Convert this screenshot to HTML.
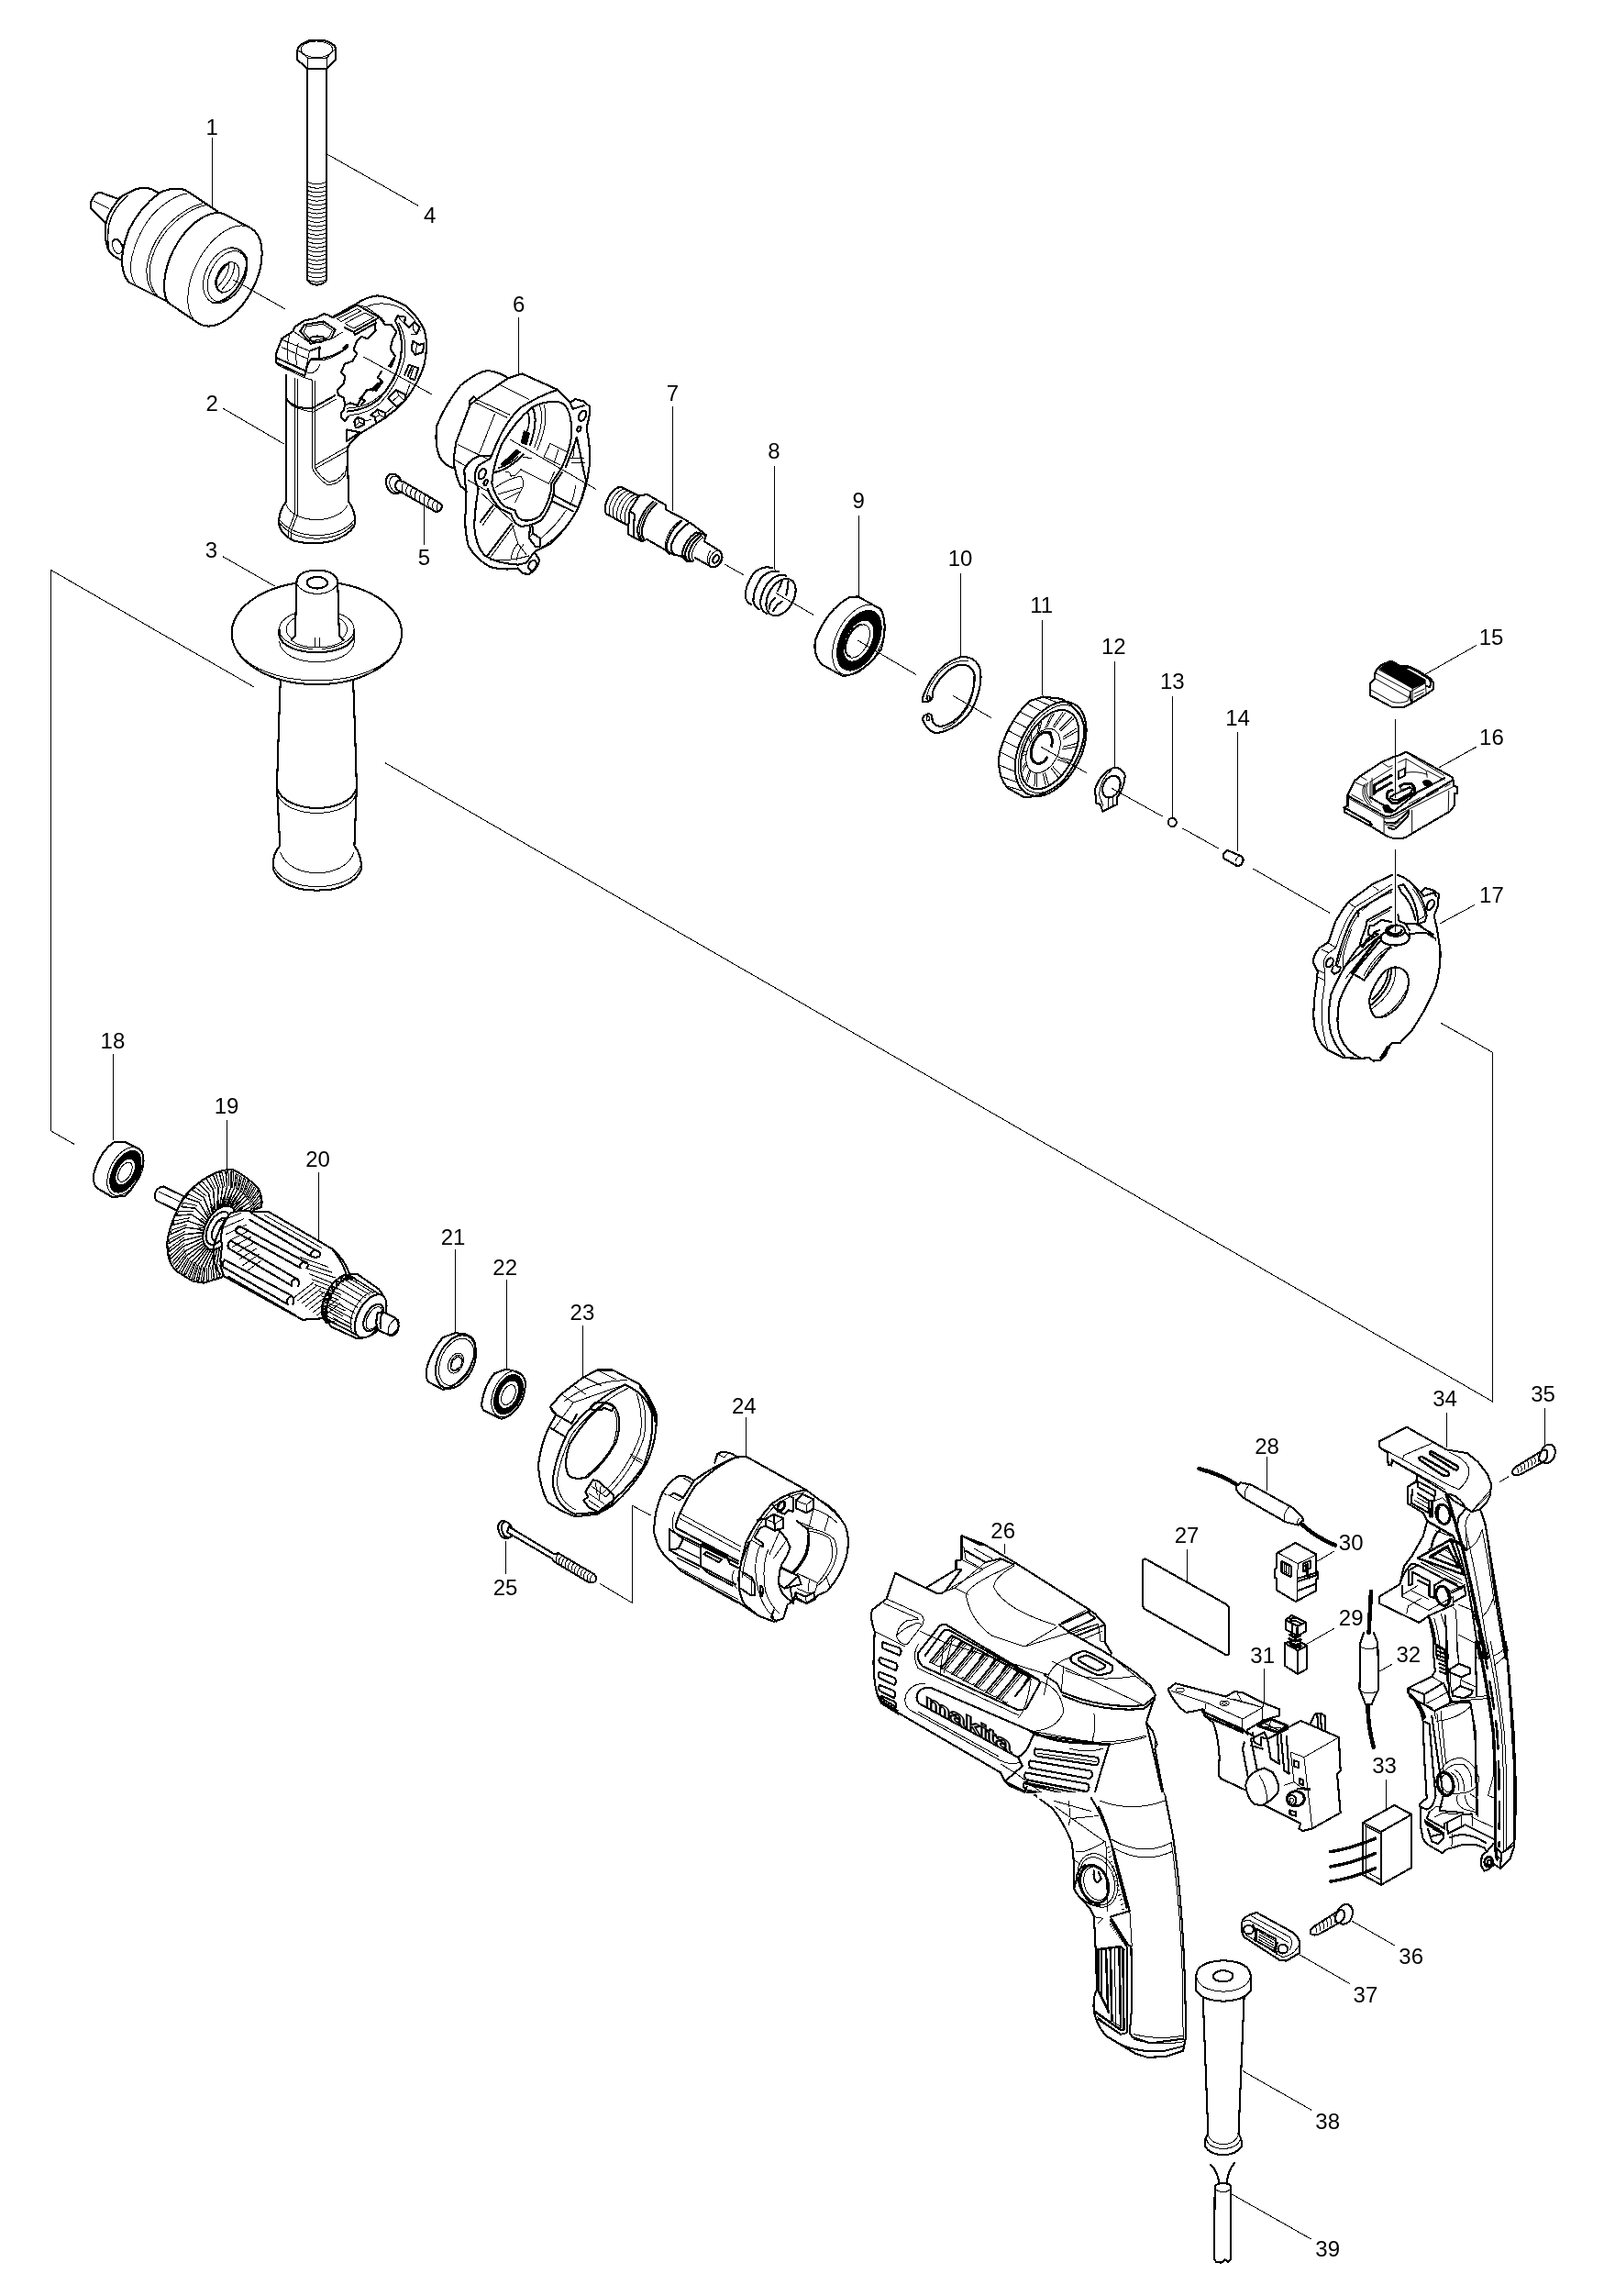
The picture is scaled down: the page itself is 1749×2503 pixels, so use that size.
<!DOCTYPE html>
<html><head><meta charset="utf-8"><title>Parts diagram</title>
<style>
html,body{margin:0;padding:0;background:#fff;}
body{width:1749px;height:2503px;overflow:hidden;font-family:"Liberation Sans",sans-serif;}
svg{display:block;position:absolute;left:0;top:0;will-change:transform;}
.k{fill:none;stroke:#000;stroke-width:2.1;stroke-linecap:round;stroke-linejoin:round;vector-effect:non-scaling-stroke;}
.m{fill:none;stroke:#000;stroke-width:1.5;stroke-linecap:round;stroke-linejoin:round;vector-effect:non-scaling-stroke;}
.t{fill:none;stroke:#000;stroke-width:1;stroke-linecap:round;stroke-linejoin:round;vector-effect:non-scaling-stroke;}
.kw{fill:#fff;stroke:#000;stroke-width:2.1;stroke-linecap:round;stroke-linejoin:round;vector-effect:non-scaling-stroke;}
.tw{fill:#fff;stroke:#000;stroke-width:1;stroke-linecap:round;stroke-linejoin:round;vector-effect:non-scaling-stroke;}
.b{fill:#000;stroke:#000;stroke-width:1;stroke-linejoin:round;vector-effect:non-scaling-stroke;}
.l{fill:none;stroke:#000;stroke-width:1;vector-effect:non-scaling-stroke;}
text{font-family:"Liberation Sans",sans-serif;font-size:24px;fill:#000;text-anchor:middle;stroke:#fff;stroke-width:0.7px;paint-order:stroke fill;}
</style></head><body>
<svg width="1749" height="2503" viewBox="0 0 1749 2503" shape-rendering="crispEdges">
<rect x="0" y="0" width="1749" height="2503" fill="#fff"/>
<!-- p01_chuck.svg -->
<g transform="translate(80,180) scale(0.15586)">
<!-- nose -->
<path class="k" d="M312,236 L190,192 Q160,190 140,225 Q112,265 125,305 L225,405"/>
<path class="t" d="M140,250 L250,305"/>
<!-- cone -->
<path class="k" d="M312,236 Q380,192 440,167 Q500,153 545,167 L600,195"/>
<path class="k" d="M348,213 Q250,300 228,405 Q213,500 240,580 Q255,628 335,665"/>
<path class="m" d="M378,213 Q272,310 248,420 Q236,500 246,570"/>
<ellipse class="t" cx="308" cy="568" rx="32" ry="54" transform="rotate(-18 308 568)"/>
<path class="k" d="M278,530 Q300,505 325,535 L345,572"/>
<!-- main body -->
<path class="k" d="M600,197 Q470,290 390,450 Q340,570 340,680 Q345,775 392,822 L650,950"/>
<path class="k" d="M600,195 Q660,165 720,165 Q770,165 800,185 L1010,325"/>
<path class="t" d="M790,200 Q690,215 560,340 Q450,470 410,640 Q385,760 432,832"/>
<path class="t" d="M905,268 Q770,300 640,440 Q540,560 515,700 Q500,850 590,925"/>
<path class="t" d="M925,280 Q790,310 660,450 Q560,570 535,710 Q520,860 610,935"/>
<!-- sleeve -->
<path class="k" d="M1050,340 L1240,440 A214,380 27.8 0 1 880,1110 L660,960 A214,380 27.8 0 1 1050,340"/>
<path class="t" d="M1240,440 A214,380 27.8 0 0 880,1110"/>
<!-- face rings -->
<ellipse class="t" cx="1062" cy="772" rx="135" ry="208" transform="rotate(27.8 1062 772)"/>
<ellipse class="t" cx="1075" cy="778" rx="118" ry="190" transform="rotate(27.8 1075 778)"/>
<path class="k" d="M1100,578 Q1180,580 1212,650 Q1225,760 1130,880 Q1050,965 975,965"/>
<ellipse class="t" cx="1078" cy="784" rx="72" ry="112" transform="rotate(27.8 1078 784)"/>
<path class="k" d="M1092,680 Q1030,725 998,805 Q990,870 1040,890"/>
<path class="t" d="M1085,690 Q1095,760 1010,850"/>
<path class="t" d="M1125,690 Q1135,770 1040,870"/>
</g>
<!-- p02_handlebase.svg -->
<g transform="translate(280,310) scale(0.13716)">
<!-- stem -->
<path class="k" d="M235,720 L232,1730 Q180,1790 175,1890 Q185,1990 300,2040 Q450,2075 600,2040 Q730,1995 775,1920 Q795,1820 730,1725 L720,1290"/>
<path class="t" d="M232,1750 C300,1910 640,1910 722,1755"/>
<path class="t" d="M180,1870 C300,2035 650,2035 772,1875"/>
<path class="t" d="M185,1900 C300,2060 650,2060 765,1905"/>
<path class="t" d="M300,750 L300,1830 L250,1960 L250,2010 M322,755 L322,1835 L272,1965 L272,2020"/>
<path class="t" d="M438,760 L438,1440 Q450,1520 560,1592 Q640,1600 700,1520 L716,1440"/>
<path class="t" d="M460,770 L460,1450 Q490,1520 570,1570 Q640,1570 690,1500"/>
<path class="t" d="M460,1440 L720,1290 M470,1462 L720,1322"/>
<path class="k" d="M235,905 Q250,945 330,975 Q400,990 440,985 L620,885"/>
<path class="t" d="M245,925 Q270,985 450,1015 L630,912"/>
<!-- clamp outline -->
<path class="k" d="M150,560 L200,430 L290,372 L300,340 L380,287 L470,270 L530,235 L560,240 L600,262 L790,155 Q870,100 960,90 Q1060,100 1180,170 Q1290,260 1335,370 Q1365,500 1330,640 Q1290,780 1180,920 Q1100,1020 830,1180 Q740,1250 722,1300"/>
<path class="k" d="M150,560 L150,620 L380,728 L392,690 L160,585"/>
<path class="t" d="M165,640 L375,740 L440,760 M200,440 L420,530 L385,690 M290,372 L430,470 L600,430 L680,380"/>
<path class="t" d="M260,400 Q230,520 250,610 M330,470 Q300,560 320,640 M200,500 L400,590"/>
<path class="k" d="M392,690 Q400,620 440,590 Q560,600 680,530 L720,480"/>
<path class="k" d="M420,530 L500,500 L495,590"/>
<path class="t" d="M400,700 Q470,720 500,640 M440,600 Q560,625 700,520 L730,490 L715,475 L680,510"/>
<!-- hex nut pocket -->
<path class="k" d="M345,372 L380,320 L530,295 L625,360 L590,432 L430,472 Z"/>
<path class="t" d="M372,380 L395,335 L525,315 L600,365 L575,420 L440,452 Z M380,320 L395,335 M530,295 L525,315 M625,360 L600,365"/>
<ellipse class="k" cx="482" cy="436" rx="62" ry="24"/>
<!-- ribbed slot -->
<path class="k" d="M610,262 L800,165 L975,262 L770,378 L700,345"/>
<path class="t" d="M640,275 L800,195 L830,210 L670,295 Z M700,310 L860,225 L930,262 L770,350 Z M800,165 L870,180 L990,265 L1020,300"/>
<path class="t" d="M870,180 Q1000,120 1150,190 Q1260,260 1300,370"/>
<path class="k" d="M770,378 L780,400 L940,310 L945,370"/>
<!-- toothed inner opening -->
<path class="k" d="M945,300 L938,372 L880,432 L835,415 L795,450 L770,520 L798,550 L760,610 L700,632 L670,700 L702,732 L690,792 L640,842 L650,882 L692,902 L702,962 L742,942 L800,962 L832,902 L872,842 L922,830 L962,790"/>
<path class="k" d="M975,262 L1020,320 L1070,322 L1112,380 L1082,432 L1062,512 L1100,572 L1050,652"/>
<path class="b" d="M1085,585 L1100,590 L1070,660 L1052,655 Z M990,760 L1005,775 L950,850 L935,840 Z"/>
<path class="k" d="M992,690 L962,742 L1002,772 L962,792 L925,842 L880,838 L830,902"/>
<path class="k" d="M820,905 L860,925 L830,960 M700,962 L690,1000 L670,1020 L672,1060 L700,1085 L730,1050"/>
<!-- inner ring arcs -->
<path class="k" d="M1100,290 Q1175,420 1140,600 Q1100,780 960,920 Q860,1000 720,1010"/>
<path class="t" d="M1130,310 Q1200,430 1170,610 Q1120,800 980,945 Q880,1030 740,1040"/>
<path class="t" d="M1100,740 Q1040,850 920,930 Q840,980 720,985"/>
<!-- outer teeth -->
<path class="k" d="M1100,290 L1120,250 L1180,260 L1175,310 L1210,345 L1250,300 L1295,340 L1270,395"/>
<path class="t" d="M1120,250 L1150,290 L1175,310 M1250,300 L1240,350 L1270,395 L1230,400"/>
<path class="k" d="M1240,450 L1230,520 L1260,560 L1320,540 L1330,470 L1290,480 Z"/>
<path class="t" d="M1240,450 L1275,470 L1290,480 M1275,470 L1265,525 L1260,560"/>
<path class="k" d="M1210,640 L1175,720 M1235,650 L1200,730 M1210,640 L1285,665 L1255,760 L1215,745"/>
<path class="t" d="M1245,665 L1220,740"/>
<path class="k" d="M1045,905 L1110,840 L1185,880 L1175,925 L1110,975 Z"/>
<path class="t" d="M1110,840 L1130,885 L1175,925 M1130,885 L1070,935"/>
<path class="k" d="M905,1040 L960,995 L1020,1020 L1025,1060 L950,1105 L935,1050 Z"/>
<path class="t" d="M960,995 L975,1040 L1025,1060 M975,1040 L940,1060"/>
<path class="k" d="M775,1090 L800,1055 L850,1075 L855,1115 L800,1140 L785,1135 Z"/>
<path class="t" d="M800,1055 L815,1095 L855,1115 M815,1095 L790,1120"/>
<path class="t" d="M860,1085 L910,1075 M1030,1020 L1080,975 M1190,870 L1215,800"/>
<path class="k" d="M715,1155 L822,1176 L715,1246 Z"/>
<!-- screw 5 -->
<ellipse class="kw" cx="1092" cy="1585" rx="62" ry="82" transform="rotate(-25 1092 1585)"/>
<ellipse class="t" cx="1108" cy="1590" rx="48" ry="68" transform="rotate(-25 1108 1590)"/>
<path class="kw" d="M1120,1560 Q1090,1590 1110,1630 L1420,1805 Q1460,1810 1470,1775 Q1475,1745 1450,1735 L1160,1565 Z"/>
<path class="t" d="M1170,1575 Q1140,1610 1160,1655 M1205,1595 Q1175,1630 1195,1675 M1240,1615 Q1210,1650 1230,1695 M1275,1635 Q1245,1670 1265,1715 M1310,1655 Q1280,1690 1300,1735 M1345,1675 Q1315,1710 1335,1755 M1380,1695 Q1350,1730 1370,1775 M1415,1715 Q1385,1750 1405,1795 M1445,1735 Q1420,1765 1435,1805"/>
</g>
<!-- p03_grip.svg -->
<g transform="translate(230,600) scale(0.16551)">
<!-- handle -->
<path class="kw" d="M460,800 Q445,1200 435,1560 L455,1945 Q400,2010 410,2100 Q450,2200 600,2232 L697,2240 L800,2232 Q950,2200 990,2100 Q995,2010 945,1945 L960,1560 Q950,1200 935,800"/>
<path class="k" d="M435,1570 C500,1740 900,1740 960,1570"/>
<path class="t" d="M440,1610 C500,1770 900,1770 955,1610 M458,1990 C520,2170 880,2170 942,1990 M415,2080 C480,2260 920,2260 985,2080"/>
<ellipse class="kw" cx="697" cy="545" rx="560" ry="338"/>
<path class="t" d="M150,610 C260,940 1135,940 1245,610"/>
<!-- base ring -->
<path class="t" d="M450,600 C470,780 925,780 945,600 L945,520"/>
<ellipse class="t" cx="697" cy="520" rx="247" ry="130"/>
<path class="k" d="M450,520 L450,560 C480,710 915,710 945,560 L945,520"/>
<ellipse class="t" cx="697" cy="520" rx="200" ry="108"/>
<!-- post -->
<path class="kw" d="M565,200 Q580,145 650,135 L750,135 Q820,150 835,200 L845,560 L875,590 L845,600 L555,600 L530,590 L555,560 Z"/>
<path class="t" d="M565,215 C600,310 800,310 835,215"/>
<path d="M548,585 L852,585 L880,600 L700,660 L520,600 Z" fill="#fff" stroke="none"/>
<path class="t" d="M683,575 L683,640 M715,575 L715,640 M530,592 C600,655 800,655 875,592"/>
<ellipse class="k" cx="700" cy="213" rx="68" ry="38"/>
</g>
<!-- p04_bolt.svg -->
<g transform="translate(280,30) scale(0.13067)">
<path class="k" d="M340,185 Q350,140 440,108 L560,108 Q640,130 660,170 L660,270 L585,342 L420,342 L340,270 Z"/>
<ellipse class="t" cx="500" cy="182" rx="132" ry="68"/>
<path class="t" d="M345,190 L425,252 L425,340 M655,180 L585,252 L585,340 M425,252 Q500,262 585,252"/>
<path class="k" d="M420,342 L420,2095 Q430,2140 500,2148 Q575,2140 585,2095 L585,342"/>
<path class="t" d="M428,1290 Q500,1322 578,1290"/>
<path class="t" d="M428,1325 Q500,1357 578,1325"/>
<path class="t" d="M428,1361 Q500,1393 578,1361"/>
<path class="t" d="M428,1396 Q500,1428 578,1396"/>
<path class="t" d="M428,1432 Q500,1464 578,1432"/>
<path class="t" d="M428,1467 Q500,1499 578,1467"/>
<path class="t" d="M428,1503 Q500,1535 578,1503"/>
<path class="t" d="M428,1538 Q500,1570 578,1538"/>
<path class="t" d="M428,1574 Q500,1606 578,1574"/>
<path class="t" d="M428,1609 Q500,1641 578,1609"/>
<path class="t" d="M428,1645 Q500,1677 578,1645"/>
<path class="t" d="M428,1680 Q500,1712 578,1680"/>
<path class="t" d="M428,1716 Q500,1748 578,1716"/>
<path class="t" d="M428,1751 Q500,1783 578,1751"/>
<path class="t" d="M428,1787 Q500,1819 578,1787"/>
<path class="t" d="M428,1822 Q500,1854 578,1822"/>
<path class="t" d="M428,1858 Q500,1890 578,1858"/>
<path class="t" d="M428,1893 Q500,1925 578,1893"/>
<path class="t" d="M428,1929 Q500,1961 578,1929"/>
<path class="t" d="M428,1964 Q500,1996 578,1964"/>
<path class="t" d="M428,2000 Q500,2032 578,2000"/>
<path class="t" d="M428,2035 Q500,2067 578,2035"/>
<path class="t" d="M428,2071 Q500,2103 578,2071"/>
<path class="t" d="M428,2106 Q500,2138 578,2106"/>
</g>
<!-- p06_gearhousing.svg -->
<g transform="translate(460,380) scale(0.14963)">
<!-- front nose cylinder -->
<path class="k" d="M630,215 Q560,170 480,160 Q400,170 280,270 Q170,410 110,560 Q90,690 130,790 Q160,850 230,870"/>
<!-- body outline -->
<path class="k" d="M630,215 L730,183 L990,300 L1080,395 L1100,440 L1180,415"/>
<path class="k" d="M1085,390 L1120,368 L1180,385 L1220,420 L1225,470 L1200,580 L1218,680 L1225,800 Q1215,1000 1130,1180 Q1050,1320 940,1420 L820,1482"/>
<path class="k" d="M630,215 L400,370 L380,350 L345,380 L352,410 L250,680 L232,800 Q235,900 280,1000 L330,1042"/>
<path class="k" d="M400,370 L352,410"/>
<path class="k" d="M990,300 Q850,345 720,430 Q620,520 545,690 L500,800 L415,850 Q375,900 392,970 L412,1022 Q385,1180 382,1300 Q395,1440 455,1505 Q540,1565 700,1575 L760,1562"/>
<path class="k" d="M500,780 L420,782 Q340,810 310,880 L312,950 Q330,1050 320,1180 Q305,1300 340,1440 Q400,1540 500,1592 Q600,1618 700,1600 L740,1640 L782,1642 Q840,1610 858,1542 L820,1482 L760,1562"/>
<!-- inner opening -->
<path class="k" d="M1000,390 Q900,375 800,430 Q680,530 580,700 Q520,850 510,980 Q530,1080 600,1150 L680,1180 Q685,1225 730,1250 Q795,1265 860,1220 Q915,1150 940,1040 L945,980 L1000,900 Q1070,780 1090,640 Q1095,500 1060,440 Q1040,400 1000,390 Z"/>
<path class="k" d="M1020,905 L965,985 L962,1050 Q935,1170 870,1250 Q800,1295 720,1295 Q665,1270 650,1205 L580,1172 Q500,1100 480,1020"/>
<!-- ribs -->
<path class="k" d="M425,1265 L520,1140 M480,1505 L655,1275 M965,1070 L1120,1150 M952,1112 L1100,1185 M1050,860 L1130,650 L1190,940"/>
<path class="t" d="M440,1290 L530,1165 M500,1520 L670,1290 M1080,800 L1180,800 M1090,830 L1185,835 M1120,650 L1100,800"/>
<path class="k" d="M790,1300 L780,1380 L830,1445 L860,1440 L865,1385 L810,1345 L805,1295"/>
<path class="t" d="M780,1380 L810,1345 M660,1290 L700,1420 L760,1500 M700,1420 Q660,1460 650,1530 M740,1430 Q700,1470 690,1540"/>
<path class="t" d="M500,1540 Q620,1555 780,1510 M830,1470 Q980,1400 1100,1230 Q1170,1100 1195,950 M870,1380 Q980,1290 1050,1180 M1120,1000 Q1110,1080 1080,1140"/>
<!-- screw holes -->
<ellipse class="k" cx="440" cy="912" rx="24" ry="40" transform="rotate(25 440 912)"/>
<ellipse class="k" cx="465" cy="977" rx="12" ry="22" transform="rotate(25 465 977)"/>
<ellipse class="k" cx="1170" cy="490" rx="24" ry="40" transform="rotate(25 1170 490)"/>
<ellipse class="k" cx="1146" cy="585" rx="12" ry="21" transform="rotate(25 1146 585)"/>
<ellipse class="k" cx="806" cy="1580" rx="27" ry="38" transform="rotate(25 806 1580)"/>
<!-- interior details -->
<path class="k" d="M810,440 Q850,520 790,700 M520,905 Q640,880 740,770"/>
<path class="b" d="M745,600 L785,615 L765,700 L722,685 Z M690,735 L718,755 L600,860 L575,845 Z"/>
<path class="m" d="M770,460 Q800,520 760,620 M560,870 Q630,850 700,790"/>
<path class="t" d="M860,420 Q900,520 820,720 M890,410 Q930,530 840,740 M740,790 L800,800 M720,880 L925,985 L965,900"/>
<path class="t" d="M935,690 L1050,750 M935,690 L890,790 L1010,850 M995,740 L965,830"/>
<path class="t" d="M610,900 Q640,890 650,930 L680,925 L720,885 M540,1010 Q620,950 720,930 Q750,960 735,1010 L680,1120 M560,1060 L735,1010 M600,1100 L720,1040"/>
<path class="t" d="M570,265 L780,370 M385,392 L620,502 M400,372 L640,482 M530,480 L420,760 M262,700 L470,800 M245,815 L330,860 M340,960 L480,1040 M440,1060 L660,1260"/>
</g>
<!-- p07_spindle.svg -->
<g transform="translate(650,510) scale(0.15586)">
<!-- thread section -->
<path class="k" d="M300,197 L170,132 Q100,150 68,250 Q55,310 75,325 L225,405"/>
<path class="t" d="M195,145 Q125,170 95,265 Q85,320 100,340 M222,158 Q152,183 122,278 Q112,333 127,353 M249,171 Q179,196 149,291 Q139,346 154,366 M276,184 Q206,209 176,304 Q166,359 181,379 M290,200 Q230,222 203,317 Q193,372 208,392"/>
<!-- hex collar -->
<path class="k" d="M300,197 L355,185 L490,262 M300,197 L235,300 L222,460 L238,472 L320,516 L355,500 M235,300 L268,325 L262,480"/>
<path class="k" d="M400,235 Q320,300 292,410 Q285,470 312,505 M425,250 Q350,310 322,420 Q315,475 335,500"/>
<path class="t" d="M412,242 Q335,305 307,415 Q300,472 322,503"/>
<!-- main shaft -->
<path class="k" d="M490,262 L485,290 L640,372 M355,500 L540,607"/>
<path class="k" d="M600,372 Q520,430 495,530 Q488,580 515,603 M650,385 Q560,440 525,540 Q520,585 545,605"/>
<path class="t" d="M588,368 Q508,426 483,526 Q478,580 500,598"/>
<path class="k" d="M660,385 L770,470 M545,605 L615,625"/>
<!-- knurl ring -->
<path class="k" d="M700,452 Q625,500 605,585 Q600,630 635,652 M715,465 Q645,510 625,590 Q620,635 650,655 M735,475 Q668,520 648,598 Q645,640 668,652"/>
<path class="k" d="M700,452 L770,470 L760,500 M635,652 L672,655"/>
<path class="t" d="M750,485 Q690,525 670,600 Q668,640 685,650"/>
<!-- small shaft -->
<path class="k" d="M758,515 L866,582 Q890,610 878,650 Q850,700 804,692 L690,628"/>
<ellipse class="t" cx="835" cy="636" rx="38" ry="62" transform="rotate(29.8 835 636)"/>
<path class="t" d="M800,580 Q765,625 790,690"/>
<ellipse class="k" cx="838" cy="638" rx="18" ry="30" transform="rotate(29.8 838 638)"/>
<!-- spring 8 -->
<path class="k" d="M1230,700 Q1160,680 1100,740 Q1040,830 1045,900 Q1050,940 1085,955"/>
<path class="k" d="M1280,725 Q1215,710 1155,770 Q1095,860 1100,930 Q1105,970 1140,990"/>
<path class="k" d="M1330,755 Q1265,735 1205,800 Q1145,885 1150,955 Q1155,1000 1195,1020"/>
<ellipse class="k" cx="1293" cy="905" rx="88" ry="140" transform="rotate(29.8 1293 905)"/>
<path class="k" d="M1300,790 Q1290,830 1270,860 M1345,790 Q1340,850 1330,890 M1250,910 Q1215,940 1210,985 M1300,935 Q1260,960 1240,1000" stroke-dasharray="30 14"/>
</g>
<!-- p09_bearing.svg -->
<g transform="translate(870,620) scale(0.20574)">
<path class="kw" d="M320,148 L275,150 Q150,220 92,380 Q80,470 135,512 L240,570 Q350,555 440,430 Q480,300 440,215 Z"/>
<ellipse class="t" cx="322" cy="378" rx="118" ry="200" transform="rotate(27 322 378)"/>
<path class="b" fill-rule="evenodd" d="M414,425 L399,451 L382,475 L363,496 L343,513 L323,527 L302,535 L282,540 L264,539 L247,533 L233,523 L221,509 L213,490 L208,468 L207,444 L209,417 L215,390 L224,362 L236,335 L251,309 L268,285 L287,264 L307,247 L327,233 L348,225 L368,220 L386,221 L403,227 L417,237 L429,251 L437,270 L442,292 L443,316 L441,343 L435,370 L426,398 Z M383,413 L372,431 L361,447 L348,461 L334,473 L320,482 L306,489 L293,491 L280,491 L269,487 L259,480 L251,470 L245,458 L242,443 L241,426 L243,408 L247,389 L253,370 L261,351 L272,333 L283,317 L296,303 L310,291 L324,282 L338,275 L351,273 L364,273 L375,277 L385,284 L393,294 L399,306 L402,321 L403,338 L401,356 L397,375 L391,394 Z"/>
<ellipse class="t" cx="318" cy="384" rx="52" ry="95" transform="rotate(27 318 384)"/>
<path class="k" d="M335,295 Q280,310 250,400 Q245,450 275,465"/>
<path class="k" d="M660,705 Q655,680 700,600 Q760,500 860,468 Q940,460 965,530 Q985,620 920,750 Q850,850 740,870 Q690,870 662,800 Q660,775 695,768 Q715,775 712,800 Q720,835 760,835 Q840,820 895,730 Q945,630 935,555 Q915,500 850,510 Q770,540 718,640 Q715,660 712,685 Q700,710 660,705 Z"/>
<path class="t" d="M680,690 Q690,620 760,540 Q830,480 900,490 M930,570 Q945,640 900,735 Q850,820 770,850"/>
<ellipse class="m" cx="692" cy="685" rx="8" ry="12"/><ellipse class="m" cx="690" cy="793" rx="8" ry="12"/>
<path class="kw" d="M1300,678 L1230,700 Q1120,800 1070,970 Q1050,1090 1110,1160 L1200,1212 Q1300,1210 1400,1130 Q1500,1010 1520,870 Q1520,760 1400,690 Z"/>
<ellipse class="k" cx="1340" cy="955" rx="162" ry="268" transform="rotate(27 1340 955)"/>
<ellipse class="t" cx="1342" cy="955" rx="148" ry="250" transform="rotate(27 1342 955)"/>
<ellipse class="k" cx="1335" cy="958" rx="130" ry="225" transform="rotate(27 1335 958)"/>
<path class="t" d="M1300,680 L1390,715 M1255,690 L1340,728 M1215,715 L1290,755 M1180,760 L1250,795 M1150,810 L1215,845 M1120,860 L1185,895 M1095,915 L1165,950 M1078,975 L1150,1010 M1068,1040 L1150,1075 M1072,1100 L1160,1130 M1100,1150 L1185,1175"/>
<ellipse class="t" cx="1300" cy="965" rx="80" ry="125" transform="rotate(27 1300 965)"/>
<path class="k" d="M1340,870 Q1290,850 1250,920 Q1215,1000 1260,1030 Q1300,1040 1320,1000 M1345,940 Q1355,890 1330,870" style="stroke-width:3"/>
<path class="t" d="M1386,1000 L1444,1013 M1379,1012 L1434,1032 M1352,1049 L1391,1090 M1343,1058 L1378,1104 M1309,1080 L1328,1140 M1300,1084 L1313,1147 M1267,1088 L1266,1155 M1259,1086 L1253,1152 M1234,1071 L1217,1130 M1228,1064 L1209,1120 M1215,1032 L1192,1071 M1213,1021 L1190,1055 M1215,980 L1195,990 M1218,967 L1200,971 M1234,924 L1226,903 M1241,912 L1236,884 M1268,875 L1279,826 M1277,866 L1292,812 M1311,844 L1342,776 M1320,840 L1357,769 M1353,836 L1404,761 M1361,838 L1417,764 M1386,853 L1453,786 M1392,860 L1461,796 M1405,892 L1478,845 M1407,903 L1480,861 M1405,944 L1475,926 M1402,957 L1470,945 "/>
</g>
<!-- p12_small.svg -->
<g transform="translate(1170,690) scale(0.29925)">
<path class="kw" d="M150,490 Q100,510 80,570 L85,620 L100,625 L108,650 L160,625 L160,600 Q185,570 190,520 Q180,490 150,490 Z"/>
<ellipse class="k" cx="140" cy="560" rx="30" ry="42" transform="rotate(27 140 560)"/>
<path class="t" d="M140,500 Q100,530 95,590 L110,630 M128,600 L128,635 M145,595 L145,628"/>
<circle class="kw" cx="362" cy="690" r="15"/>
<path class="kw" d="M563,792 Q545,800 548,820 L595,848 Q615,850 620,830 Q622,815 610,812 Z"/>
<ellipse class="t" cx="605" cy="830" rx="12" ry="18" transform="rotate(27 605 830)"/>
</g>
<!-- p15_lever.svg -->
<g transform="translate(1450,700) scale(0.10017)">
<!-- 15 knob -->
<path class="kw" d="M435,455 L490,395 L495,330 L515,290 L560,250 L640,215 L690,215 L760,260 L860,265 L960,310 L1100,400 L1125,440 L1125,510 L1080,550 L880,670 L800,710 L680,710 L440,580 Z"/>
<path class="b" d="M540,290 L640,215 L690,215 L760,260 L810,280 L1040,410 L1040,445 L900,505 Z"/>
<path class="t" d="M495,335 L880,540 M500,400 L870,610 M450,520 L680,650 Q760,675 850,640 L880,540 L1040,445 L1050,560 M900,505 L900,640 M920,560 L1030,510 M920,600 L1020,550 M515,290 L895,495"/>
<path class="k" d="M810,280 L870,275 L950,320 L1080,400 L1100,440 L1090,490 L1050,480 M880,540 L885,660"/>
<!-- 16 base -->
<path class="kw" d="M195,1660 L270,1510 L330,1460 L560,1310 L680,1255 L745,1235 L830,1195 L890,1225 L1340,1475 L1350,1560 L1390,1580 L1390,1645 L1355,1650 L1355,1780 L1310,1840 L900,2080 L820,2130 L700,2140 L620,2110 L440,2000 L160,1850 L155,1800 L195,1780 Z"/>
<path class="k" d="M155,1800 L440,1960 L460,1990 L440,2000 M440,1960 L430,1995"/>
<path class="t" d="M175,1815 L430,1965 M195,1780 L205,1800"/>
<path class="k" d="M210,1680 L590,1890 Q650,1905 700,1880 L860,1790 L1340,1500"/>
<path class="t" d="M215,1705 L590,1915 Q650,1930 710,1905 L870,1815 L1350,1570 M590,1890 L590,2100 M895,1830 L895,2080 M1295,1620 L1290,1845"/>
<path class="t" d="M240,1660 L560,1840 M860,1760 L1300,1520 M870,1790 L1310,1545" stroke-dasharray="14 8"/>
<path class="k" d="M600,1960 Q700,1990 760,1930 L860,1840 M640,2020 L700,2040 L850,1900 L860,1840"/>
<path class="t" d="M600,1985 Q700,2010 770,1950 M640,2020 L660,2000 L720,2010"/>
<!-- cavity -->
<path class="k" d="M440,1690 L700,1840 L960,1630 L1250,1480"/>
<path class="t" d="M460,1480 L460,1680 M440,1520 L440,1700 M330,1460 L400,1500 M280,1530 L380,1570 M580,1320 L640,1360 L680,1345 M440,1520 L680,1370 M745,1310 L830,1270 L1050,1400 L1060,1470 M830,1270 L825,1450 M890,1240 L1240,1450 M1060,1400 L1250,1500 M830,1420 Q950,1400 1060,1440"/>
<path class="t" d="M395,1540 Q340,1650 440,1760 M375,1550 Q320,1660 420,1770 M415,1530 Q365,1640 455,1745"/>
<path class="k" d="M480,1560 L670,1450 M480,1640 L670,1530 M480,1560 L480,1650" style="stroke-width:3"/>
<path class="k" d="M745,1410 L820,1372 L820,1452 L745,1490 Z"/>
<!-- slot -->
<path class="k" d="M680,1610 L640,1625 Q610,1655 625,1700 L680,1750 L740,1750 L920,1640 Q940,1590 890,1545 L810,1542 L760,1568" style="stroke-width:3"/>
<path class="k" d="M655,1690 L700,1660 L870,1580 L900,1600 L880,1640 L740,1720 L690,1720 Z"/>
<path class="t" d="M770,1570 L770,1620 M780,1600 L890,1590"/>
<path class="b" d="M1010,1520 Q1040,1490 1090,1510 L1120,1540 L1090,1570 L1030,1560 Z M575,1790 Q600,1760 640,1775 L660,1810 L700,1830 L680,1860 L600,1850 Z"/>
</g>
<!-- p17_cover.svg -->
<g transform="translate(1420,940) scale(0.11222)">
<path class="kw" d="M870,125 L680,215 L450,385 L400,450 L320,580 L255,775 L170,830 Q110,890 105,970 L150,1060 L135,1200 Q100,1420 115,1580 Q150,1750 240,1820 L400,1900 L560,1905 L650,1900 L690,1930 L760,1925 L810,1870 L840,1790 L870,1760 L950,1755 L1060,1640 Q1200,1440 1300,1200 Q1350,1000 1340,850 L1310,650 L1280,520 L1320,420 L1325,310 L1270,270 L1190,250 L1150,290 L1060,200 L990,150 L930,125"/>
<!-- front disc arcs -->
<path class="k" d="M760,760 L560,1000 Q420,1180 360,1350 Q320,1560 370,1700 Q430,1840 560,1900"/>
<path class="k" d="M740,700 L540,830 Q380,1040 280,1280 Q240,1480 275,1650 Q320,1790 410,1880"/>
<path class="t" d="M210,1000 Q230,1100 215,1200 Q170,1450 200,1620 Q220,1750 250,1810 M140,1040 L210,1075 M160,1120 L225,1150 M195,850 L260,880 L325,830 L255,785 M325,830 Q420,540 520,430 L870,215 M445,390 L510,435 M690,235 L740,270 M260,880 Q200,930 210,1000"/>
<path class="k" d="M325,1000 Q420,620 540,470 L870,265 M540,470 L545,530"/>
<path class="t" d="M345,1000 Q440,640 555,495 M395,1000 Q380,900 480,650 M580,470 L660,400 L780,330 L870,290"/>
<!-- screw lugs -->
<ellipse class="k" cx="265" cy="975" rx="30" ry="48" transform="rotate(30 265 975)"/>
<path class="k" d="M300,1010 L285,1060 L310,1085 L360,1060 L375,1020 L340,1010"/>
<ellipse class="k" cx="1245" cy="415" rx="30" ry="55" transform="rotate(30 1245 415)"/>
<path class="k" d="M1150,290 L1180,330 L1280,295 L1300,330"/>
<!-- top boss -->
<ellipse class="kw" cx="900" cy="735" rx="140" ry="72"/>
<ellipse class="kw" cx="905" cy="665" rx="92" ry="55"/>
<path class="k" d="M880,625 Q830,640 835,670 Q850,700 905,700 Q950,695 965,665" style="stroke-width:3"/>
<path class="k" d="M765,700 L765,745 M1040,690 L1040,740"/>
<!-- arms -->
<path class="k" d="M1040,660 L1000,595 L940,570 L930,510 M1000,595 L1110,600 L1270,700 M1040,700 L1100,690 L1210,690 L1290,740"/>
<path class="k" d="M935,230 L985,215 L1060,330 Q1130,470 1120,600 M935,230 L960,290 Q1060,380 1100,560"/>
<path class="k" d="M1060,200 Q1180,340 1210,520 L1190,575 L1130,600 M1130,600 L1180,640"/>
<path class="t" d="M1075,260 Q1180,400 1195,520 L1130,560 M1110,610 Q1220,650 1300,760"/>
<path class="k" d="M865,435 L630,565 L615,640 L570,760 L560,810 L590,825 L640,740 L700,690 L740,700"/>
<path class="k" d="M865,580 L770,560 L700,610 L650,620 L640,700 L680,720 L700,680 L750,660"/>
<path class="t" d="M855,465 L650,580 M620,740 L600,800 M740,720 L420,1130"/>
<path class="k" d="M750,720 L400,1020 M740,740 L480,1075 L600,1145 L860,810" />
<path class="t" d="M600,1100 Q700,900 850,820 M620,1110 Q720,910 870,830"/>
<!-- center hole -->
<path class="k" d="M900,1020 Q990,1020 1025,1100 Q1050,1200 990,1320 Q920,1440 800,1500 L710,1505 Q660,1460 650,1340 Q680,1200 790,1070 Q850,1020 900,1020 Z"/>
<path class="k" d="M835,1045 Q830,1200 680,1330 M865,1030 Q870,1220 670,1385"/>
<path class="t" d="M905,1030 Q920,1250 680,1420 M1010,1240 Q940,1400 790,1490"/>
<path class="k" d="M760,1900 L830,1790 M770,1915 L845,1800"/>
</g>
<!-- p18_armature.svg -->
<g transform="translate(90,1230) scale(0.23068)">
<path class="kw" d="M150,65 Q80,110 52,220 Q50,270 68,282 L140,325 L200,320 Q260,270 288,160 Q290,110 268,98 L200,65 Z"/>
<path class="t" d="M266,238 L256,254 L245,270 L232,284 L219,295 L205,305 L192,312 L178,316 L165,318 L154,317 L143,313 L134,306 L126,297 L121,285 L117,271 L116,256 L117,239 L119,222 L124,204 L131,186 L140,168 L150,152 L161,136 L174,122 L187,111 L201,101 L214,94 L228,90 L241,88 L252,89 L263,93 L272,100 L280,109 L285,121 L289,135 L290,150 L289,167 L287,184 L282,202 L275,220 L266,238"/>
<path class="b" fill-rule="evenodd" d="M256,234 L247,248 L237,262 L226,274 L215,284 L204,292 L192,299 L181,302 L170,304 L160,303 L151,300 L144,294 L137,286 L133,276 L130,265 L129,252 L130,237 L133,222 L137,207 L143,191 L150,176 L159,162 L169,148 L180,136 L191,126 L202,118 L214,111 L225,108 L236,106 L246,107 L255,110 L262,116 L269,124 L273,134 L276,145 L277,158 L276,173 L273,188 L269,203 L263,219 L256,234 Z M235,224 L230,233 L224,242 L217,249 L210,256 L202,261 L195,265 L188,267 L181,268 L175,268 L169,266 L165,262 L161,257 L158,251 L156,244 L155,235 L156,226 L157,217 L160,207 L164,197 L169,188 L174,179 L180,170 L187,163 L194,156 L202,151 L209,147 L216,145 L223,144 L229,144 L235,146 L239,150 L243,155 L246,161 L248,168 L249,177 L248,186 L247,195 L244,205 L240,215 L235,224 Z"/>
<path class="t" d="M225,220 L221,227 L216,233 L211,238 L206,243 L201,247 L195,250 L190,252 L185,253 L181,252 L177,251 L174,248 L171,245 L169,240 L168,235 L167,229 L168,222 L169,215 L171,208 L174,201 L177,194 L181,187 L186,181 L191,176 L196,171 L201,167 L207,164 L212,162 L217,161 L221,162 L225,163 L228,166 L231,169 L233,174 L234,179 L235,185 L234,192 L233,199 L231,206 L228,213 L225,220"/>
<path class="kw" d="M480,322 L382,275 Q350,280 342,310 Q340,335 350,342 L445,388 Z"/>
<path class="t" d="M362,300 L462,348"/>
<path class="kw" d="M690,195 Q600,205 500,300 Q420,410 400,540 Q400,630 440,672 L520,722 L572,731 L660,704 L700,560 L815,383 L844,373 Q855,340 834,290 Q790,235 712,196 Z"/>
<path class="m" d="M706,502 L712,520 L727,513 M698,515 L701,536 L716,531 M689,527 L691,552 L704,548 M680,538 L682,575 L695,571 M670,548 L670,604 L685,605 M659,557 L654,641 L671,655 M648,563 L634,648 L649,701 M637,569 L615,654 L622,709 M627,572 L595,659 L597,717 M617,573 L578,658 L571,723 M607,573 L561,655 L549,719 M598,570 L546,648 L526,715 M590,566 L532,639 L507,704 M584,560 L518,629 L488,692 M578,552 L504,617 L469,680 M574,543 L493,601 L447,666 M571,532 L484,582 L432,643 M569,520 L479,557 L416,617 M569,507 L477,530 L412,582 M571,494 L481,501 L408,544 M573,480 L489,469 L417,501 M578,466 L498,438 L428,457 M583,452 L514,407 L442,413 M590,438 L531,378 L466,371 M598,425 L550,349 L490,329 M607,413 L573,328 L519,292 M616,402 L596,307 L552,263 M626,392 L618,290 L583,236 M637,383 L642,283 L616,217 M648,377 L663,277 L647,211 M659,371 L684,273 L676,206 M669,368 L702,277 L703,204 M679,367 L717,284 L726,214 M689,367 L732,291 L745,226 M698,370 L746,299 L763,238 M706,374 L758,310 L781,249 M712,380 L769,321 L796,264 M718,388 L780,334 L811,279 M722,397 L788,351 L828,295 M725,408 L794,371 L836,319 M727,420 L775,404 L845,345 M727,433 L762,430 L803,396 M725,446 L751,451 L782,428 M723,460 L741,470 L765,454 M718,474 L731,488 L751,476 M713,488 L721,504 L739,495 "/>
<path class="t" d="M727,513 L722,521 L707,527 M716,531 L711,538 L697,543 M704,548 L699,556 L687,562 M695,571 L691,584 L677,586 M685,605 L680,624 L664,621 M671,655 L663,685 L645,644 M649,701 L637,705 L625,651 M622,709 L611,712 L606,657 M597,717 L586,720 L588,659 M571,723 L561,721 L571,657 M549,719 L539,717 L554,653 M526,715 L518,711 L540,644 M507,704 L499,699 L526,635 M488,692 L480,687 L512,624 M469,680 L459,674 L499,611 M447,666 L440,656 L489,593 M432,643 L425,632 L480,572 M416,617 L414,602 L478,546 M412,582 L410,566 L477,518 M408,544 L410,526 L485,487 M417,501 L421,482 L493,456 M428,457 L432,438 L505,424 M442,413 L453,394 L522,394 M466,371 L477,352 L539,365 M490,329 L501,311 L560,340 M519,292 L534,279 L583,319 M552,263 L566,251 L606,299 M583,236 L597,224 L629,286 M616,217 L630,214 L651,280 M647,211 L660,209 L672,275 M676,206 L689,203 L692,273 M703,204 L714,207 L709,280 M726,214 L734,220 L724,287 M745,226 L753,231 L738,295 M763,238 L771,243 L751,303 M781,249 L788,255 L763,315 M796,264 L803,270 L774,327 M811,279 L818,286 L785,341 M828,295 L832,305 L791,360 M836,319 L840,330 L794,381 M845,345 L841,361 L769,416 M803,396 L793,412 L757,439 M782,428 L774,440 L746,460 M765,454 L759,464 L737,478 M751,476 L746,485 L727,495 M739,495 L734,503 L717,512 "/>
<path class="t" d="M569,492 L539,493 M571,483 L542,480 M573,473 L546,467 M576,463 L551,453 M580,454 L557,440 M585,444 L563,427 M590,435 L570,415 M595,426 L578,402 M601,418 L587,391 M607,410 L595,380 M613,402 L605,370 M620,395 L614,360 M627,388 L624,352 M634,383 L634,344 M642,378 L645,338 M649,373 L655,332 M656,370 L665,328 M664,367 L675,325 M671,365 L685,323 M678,364 L695,322 M685,364 L704,323 M691,365 L713,325 M697,366 L721,328 M703,369 L728,332 M708,372 L735,337 M713,376 L741,343 M717,381 L747,351 M721,387 L752,359 M724,393 L755,368 M726,400 L758,378 M728,408 L760,389 M729,416 L761,401 M729,424 L761,413 M729,433 L760,426 M728,442 L759,438 M727,451 L756,452 M724,461 L753,465 M722,471 L748,478 M718,480 L743,492 M714,490 L737,505 "/>
<path class="k" d="M658,557 L648,563 L639,568 L629,571 L620,573 L611,573 L603,572 L595,569 L588,564 L583,559 L578,551 L574,543 L571,534 L569,523 L569,512 L570,500 L572,488 L575,476 L579,463 L584,451 L590,438 L597,427 L605,415 L613,405 L622,396 L631,388 L641,381 L651,375 L660,371 L670,368 L679,367 L687,367 L695,369 L703,372 L709,377 L715,383 L720,391 L723,399 L726,409 L727,420 L727,431"/>
<path class="kw" d="M679,494 L673,505 L665,516 L657,525 L648,533 L639,540 L630,545 L622,548 L613,550 L606,549 L599,547 L594,542 L589,536 L586,529 L584,520 L583,509 L584,498 L586,487 L590,474 L595,462 L601,450 L607,439 L615,428 L623,419 L632,411 L641,404 L650,399 L658,396 L667,394 L674,395 L681,397 L686,402 L691,408 L694,415 L696,424 L697,435 L696,446 L694,457 L690,470 L685,482 L679,494 Z"/>
<path class="k" d="M621,531 L619,529 L617,527 L615,525 L614,522 L613,519 L612,515 L611,512 L611,507 L611,503 L612,499 L612,494 L613,489 L615,484 L617,479 L619,474 L621,469 L623,464 L626,460 L629,455 L632,450 L635,446 L639,442 L642,439 L646,435 L649,432 L653,430 L656,428 L660,426 L663,425 L667,424 L670,423 L673,424 L676,424 L678,425 L680,426 L683,428 L684,431 L686,433 L687,436 L688,440"/>
<path class="kw" d="M700,400 Q770,380 800,395 L880,395 L1180,570 Q1240,620 1262,690 L1300,690 L1400,760 Q1440,800 1432,900 Q1400,985 1300,995 L1180,940 L1140,898 L1040,905 L670,700 Q640,640 660,560 Q640,470 700,400 Z"/>
<path class="k" d="M700,400 Q640,470 620,560 Q610,640 650,690"/>
<path class="t" d="M650,440 L750,400 M665,470 L762,428 M680,500 L774,456 M695,530 L786,484 M710,560 L798,512 M725,590 L810,540 M740,620 L822,568 M755,650 L834,596 M770,680 L846,624 "/>
<path class="k" d="M800,402 L1100,575 M790,432 L1080,605 M742,462 L1050,630 M727,492 L1030,660 M702,532 L1010,710 M690,567 L990,745 M672,622 L990,792 M667,657 L970,832 M690,702 L1000,880 "/>
<path class="k" d="M1080,605 Q1070,585 1100,575 Q1130,585 1120,605 Q1100,615 1080,605 M1030,660 Q1020,640 1050,630 Q1075,640 1060,660 M990,745 Q980,720 1010,710 Q1030,720 1020,745 M970,832 Q960,800 990,792 Q1005,810 995,830 M742,462 Q720,470 727,492 M702,532 Q680,545 690,567 M672,622 Q655,640 667,657"/>
<path class="t" d="M880,397 L1160,560 M860,410 L1130,565"/>
<path class="t" d="M1030,610 L1160,655 M1044,636 L1178,681 M1058,662 L1196,707 M1072,688 L1184,733 M1086,714 L1202,759 M1100,740 L1220,785 M1114,766 L1208,811 M1128,792 L1226,837 M1142,818 L1244,863 M1156,844 L1232,889 M1170,870 L1250,915 M1184,896 L1268,941 M1000,800 L1090,730 M1018,814 L1108,744 M1036,828 L1126,758 M1054,842 L1144,772 M1072,856 L1162,786 M1090,870 L1180,800 M1108,884 L1198,814 M1126,898 L1216,828 "/>
<path class="k" d="M1180,570 Q1235,640 1250,700 M1040,905 L1140,898"/>
<path class="k" d="M1168,906 L1162,907 L1157,906 L1151,905 L1147,903 L1143,899 L1139,895 L1136,890 L1134,884 L1132,877 L1131,870 L1131,862 L1131,853 L1132,844 L1134,834 L1136,824 L1139,814 L1143,804 L1147,794 L1152,784 L1157,774 L1162,764 L1168,754 L1175,745 L1181,737 L1188,729 L1195,721 L1203,715 L1210,709 L1217,704 L1224,700 L1231,697 L1237,695 L1243,693 L1249,693 L1255,694 L1260,696 L1265,698 L1269,702 L1272,706 L1275,712"/>
<path class="k" d="M1188,916 L1182,917 L1177,916 L1171,915 L1167,913 L1163,909 L1159,905 L1156,900 L1154,894 L1152,887 L1151,880 L1151,872 L1151,863 L1152,854 L1154,844 L1156,834 L1159,824 L1163,814 L1167,804 L1172,794 L1177,784 L1182,774 L1188,764 L1195,755 L1201,747 L1208,739 L1215,731 L1223,725 L1230,719 L1237,714 L1244,710 L1251,707 L1257,705 L1263,703 L1269,703 L1275,704 L1280,706 L1285,708 L1289,712 L1292,716 L1295,722"/>
<path class="t" d="M1186,919 L1306,980 M1171,915 L1291,976 M1160,904 L1280,965 M1154,886 L1274,948 M1154,863 L1273,926 M1159,836 L1277,900 M1169,808 L1287,873 M1183,779 L1300,846 M1201,753 L1317,821 M1220,732 L1336,801 M1240,716 L1355,786 M1260,707 L1374,778 M1276,706 L1391,777 M1290,712 L1404,783 "/>
<path class="k" d="M1151,904 l10,5 l-4,12 l-10,-5 z M1141,889 l10,5 l-4,12 l-10,-5 z M1138,867 l10,5 l-4,12 l-10,-5 z M1140,839 l10,5 l-4,12 l-10,-5 z M1149,808 l10,5 l-4,12 l-10,-5 z M1164,777 l10,5 l-4,12 l-10,-5 z M1182,747 l10,5 l-4,12 l-10,-5 z M1204,723 l10,5 l-4,12 l-10,-5 z M1226,706 l10,5 l-4,12 l-10,-5 z M1246,697 l10,5 l-4,12 l-10,-5 z M1264,698 l10,5 l-4,12 l-10,-5 z "/>
<path class="kw" d="M1415,917 L1406,932 L1395,946 L1384,958 L1373,969 L1361,978 L1349,984 L1338,989 L1327,990 L1317,990 L1308,986 L1301,981 L1295,973 L1290,962 L1288,951 L1287,937 L1288,922 L1291,907 L1295,891 L1302,875 L1309,859 L1318,844 L1329,830 L1340,818 L1351,807 L1363,798 L1375,792 L1386,787 L1397,786 L1407,786 L1416,790 L1423,795 L1429,803 L1434,814 L1436,825 L1437,839 L1436,854 L1433,869 L1429,885 L1422,901 L1415,917 Z"/>
<path class="t" d="M1286,973 L1282,971 L1279,968 L1276,964 L1273,960 L1271,955 L1269,950 L1268,944 L1267,938 L1266,932 L1266,925 L1266,918 L1267,910 L1269,903 L1270,895 L1272,887 L1275,879 L1278,871 L1281,863 L1285,855 L1289,847 L1294,840 L1298,832 L1303,825 L1308,818 L1314,812 L1319,806 L1325,800 L1330,795 L1336,790 L1342,786 L1348,782 L1354,779 L1359,777 L1365,775 L1370,774 L1375,773 L1380,773 L1385,774 L1390,775 L1394,777"/>
<path class="k" d="M1408,913 L1403,923 L1396,931 L1389,939 L1382,946 L1375,951 L1367,955 L1360,958 L1353,959 L1347,958 L1341,956 L1337,953 L1333,948 L1330,941 L1328,934 L1328,926 L1328,916 L1330,907 L1333,897 L1337,887 L1342,877 L1347,867 L1354,859 L1361,851 L1368,844 L1375,839 L1383,835 L1390,832 L1397,831 L1403,832 L1409,834 L1413,837 L1417,842 L1420,849 L1422,856 L1422,864 L1422,874 L1420,883 L1417,893 L1413,903 L1408,913 Z"/>
<path class="t" d="M1404,911 L1400,919 L1394,926 L1389,933 L1383,939 L1377,943 L1371,947 L1365,949 L1360,950 L1355,950 L1350,948 L1346,945 L1343,941 L1341,936 L1340,930 L1340,923 L1340,915 L1342,907 L1344,899 L1348,891 L1352,883 L1356,875 L1362,868 L1367,861 L1373,855 L1379,851 L1385,847 L1391,845 L1396,844 L1401,844 L1406,846 L1410,849 L1413,853 L1415,858 L1416,864 L1416,871 L1416,879 L1414,887 L1412,895 L1408,903 L1404,911 Z"/>
<path class="kw" d="M1395,872 L1420,868 L1475,895 Q1500,915 1492,950 Q1480,980 1455,980 L1400,955 Q1380,930 1395,872 Z"/>
<path class="t" d="M1488,948 L1484,953 L1481,958 L1477,962 L1473,966 L1469,970 L1465,972 L1461,974 L1457,974 L1454,974 L1451,973 L1448,971 L1446,968 L1445,965 L1444,961 L1444,956 L1445,951 L1446,945 L1447,940 L1450,934 L1452,928 L1456,923 L1459,918 L1463,914 L1467,910 L1471,906 L1475,904 L1479,902 L1483,902 L1486,902 L1489,903 L1492,905 L1494,908 L1495,911 L1496,915 L1496,920 L1495,925 L1494,931 L1493,936 L1490,942 L1488,948 Z"/>
<path class="k" d="M1420,868 Q1400,900 1410,945"/>
</g>
<!-- p21_washer.svg -->
<g transform="translate(440,1400) scale(0.18703)">
<path class="kw" d="M300,285 L230,310 Q160,390 132,500 Q130,560 150,572 L230,615 Q310,600 380,500 Q430,400 415,340 Q400,300 350,288 Z"/>
<path class="k" d="M400,496 L388,519 L374,540 L358,559 L341,576 L323,589 L305,599 L286,605 L268,608 L251,607 L235,602 L221,593 L209,581 L200,565 L193,547 L188,526 L187,504 L189,480 L193,456 L200,432 L210,408 L222,385 L236,364 L252,345 L269,328 L287,315 L305,305 L324,299 L342,296 L359,297 L375,302 L389,311 L401,323 L410,339 L417,357 L422,378 L423,400 L421,424 L417,448 L410,472 L400,496 Z"/>
<path class="t" d="M390,491 L379,511 L367,530 L353,547 L338,561 L322,573 L306,582 L290,587 L275,590 L260,589 L247,584 L235,577 L225,566 L216,553 L210,537 L207,519 L206,499 L208,479 L211,457 L218,436 L226,415 L237,395 L249,376 L263,359 L278,345 L294,333 L310,324 L326,319 L341,316 L356,317 L369,322 L381,329 L391,340 L400,353 L406,369 L409,387 L410,407 L408,427 L405,449 L398,470 L390,491 Z"/>
<path class="t" d="M341,477 L337,485 L331,493 L325,501 L319,507 L312,512 L305,515 L298,518 L291,519 L285,518 L279,516 L273,513 L269,508 L265,502 L262,496 L261,488 L260,479 L261,470 L262,461 L265,452 L269,443 L273,435 L279,427 L285,419 L291,413 L298,408 L305,405 L312,402 L319,401 L325,402 L331,404 L337,407 L341,412 L345,418 L348,424 L349,432 L350,441 L349,450 L348,459 L345,468 L341,477 Z"/>
<path class="t" d="M335,473 L332,480 L327,486 L323,492 L318,497 L312,501 L307,504 L302,506 L296,507 L291,507 L287,505 L283,503 L280,499 L277,495 L275,489 L274,483 L274,476 L274,469 L276,462 L278,455 L281,447 L284,440 L289,434 L293,428 L298,423 L304,419 L309,416 L314,414 L320,413 L325,413 L329,415 L333,417 L336,421 L339,425 L341,431 L342,437 L342,444 L342,451 L340,458 L338,465 L335,473 Z"/>
<path class="m" d="M320,420 L345,440 L335,480 L295,505 L275,490 L285,445 Z"/>
<path class="kw" d="M600,495 L530,520 Q470,590 455,700 Q455,730 480,742 L570,785 Q640,770 690,680 Q720,590 705,550 Q690,520 640,505 Z"/>
<path class="t" d="M692,677 L681,697 L669,715 L656,732 L641,746 L626,757 L610,766 L595,772 L580,774 L565,773 L552,769 L540,761 L530,751 L522,738 L517,722 L513,705 L512,686 L514,665 L518,644 L524,623 L532,603 L543,583 L555,565 L568,548 L583,534 L598,523 L614,514 L629,508 L644,506 L659,507 L672,511 L684,519 L694,529 L702,542 L707,558 L711,575 L712,594 L710,615 L706,636 L700,657 L692,677 Z"/>
<path class="b" fill-rule="evenodd" d="M680,674 L671,691 L661,706 L649,720 L637,733 L624,743 L610,750 L597,755 L584,757 L572,756 L560,753 L550,746 L542,737 L535,726 L530,713 L527,698 L527,681 L528,664 L531,646 L537,628 L544,610 L553,593 L563,578 L575,564 L587,551 L600,541 L614,534 L627,529 L640,527 L652,528 L664,531 L674,538 L682,547 L689,558 L694,571 L697,586 L697,603 L696,620 L693,638 L687,656 L680,674 Z M659,665 L653,677 L646,688 L637,698 L629,707 L620,714 L610,719 L601,722 L592,724 L583,723 L576,721 L569,717 L563,710 L558,702 L555,693 L553,683 L553,671 L554,659 L556,646 L560,633 L565,621 L571,609 L578,598 L587,588 L595,579 L604,572 L614,567 L623,564 L632,562 L641,563 L648,565 L655,569 L661,576 L666,584 L669,593 L671,603 L671,615 L670,627 L668,640 L664,653 L659,665 Z"/>
<path class="t" d="M645,660 L640,669 L635,677 L629,684 L623,690 L617,695 L610,699 L603,702 L597,703 L591,703 L586,701 L581,698 L577,694 L574,688 L572,682 L570,674 L570,666 L571,657 L573,648 L576,639 L579,630 L584,621 L589,613 L595,606 L601,600 L607,595 L614,591 L621,588 L627,587 L633,587 L638,589 L643,592 L647,596 L650,602 L652,608 L654,616 L654,624 L653,633 L651,642 L648,651 L645,660 Z"/>
<path class="kw" d="M1045,545 L1130,500 L1220,500 L1370,580 Q1440,650 1475,760 Q1480,900 1420,1040 Q1350,1170 1220,1290 L1130,1340 L1000,1355 L920,1320 L840,1270 Q795,1180 785,1060 Q800,930 850,830 L890,760 L855,715 L920,640 Z"/>
<path class="k" d="M1290,585 Q1100,680 960,860 Q880,1020 870,1150 Q880,1290 1000,1340 L1130,1330 Q1290,1220 1400,1060 Q1460,900 1450,760 Q1420,640 1290,585 Z"/>
<path class="t" d="M1310,605 Q1120,700 985,870 Q905,1030 895,1150 Q905,1270 1005,1315 M1380,640 Q1430,760 1400,900 Q1340,1080 1180,1240 M1360,640 Q1400,760 1380,880 Q1310,1080 1160,1220 M1320,990 L1395,1030 M1335,1010 L1390,1045"/>
<path class="k" d="M1180,690 Q1060,780 970,930 Q930,1040 960,1110 Q990,1145 1070,1125 Q1170,1050 1240,920 Q1275,800 1240,730 Q1220,695 1180,690 Z"/>
<path class="t" d="M1230,740 Q1260,810 1225,930 Q1160,1050 1060,1120"/>
<path class="t" d="M920,640 L990,690 L1290,585 M990,590 L1060,640 M1060,545 L1150,590 M1130,500 L1240,555 M890,760 L980,810 L1000,780 M990,690 L880,840 M940,680 Q1100,560 1300,560"/>
<path class="k" d="M890,760 L980,812 L1010,760 M860,840 L945,890 M855,715 L870,745 L890,760"/>
<path class="k" d="M1090,715 L1120,690 L1180,690 L1225,715 L1215,740 L1170,720 L1150,735 L1100,730 Z"/>
<path class="k" d="M1105,1140 L1060,1210 L1075,1240 L1050,1260 L1080,1300 L1140,1330 L1220,1280 L1225,1230 L1140,1150 Z"/>
<path class="t" d="M1100,1180 L1180,1240 M1080,1220 L1170,1280 M1120,1160 L1130,1230 M1150,1180 L1140,1260 M1080,1260 L1140,1300"/>
<path class="k" d="M1380,600 Q1460,700 1470,800" style="stroke-width:3"/>
</g>
<!-- p24_field.svg -->
<g transform="translate(700,1570) scale(0.14963)">
<path class="kw" d="M680,125 L760,120 L1200,365 L1300,440 Q1420,520 1480,620 Q1520,720 1490,850 Q1450,990 1350,1100 L1280,1130 L1260,1160 L1200,1190 L1130,1150 L1060,1200 L1030,1300 L960,1322 L850,1280 L700,1180 L280,950 L220,890 Q120,820 90,680 Q80,540 150,380 Q210,290 270,260 L330,265 L380,295 Q520,190 680,125 Z"/>
<path class="k" d="M530,165 L550,100 L580,85 L620,90 L660,100 L690,120"/>
<path class="t" d="M560,105 L600,125 L625,95"/>
<!-- cylinder front edge arc -->
<path class="k" d="M680,125 Q520,200 380,345 Q280,500 245,620 L250,640 L700,880"/>
<path class="t" d="M280,535 L720,775 M275,570 L715,810"/>
<!-- front coil details -->
<path class="k" d="M380,295 L300,420 L235,385 L210,400"/>
<path class="t" d="M300,275 L360,310 M190,400 L270,440 L300,420 M150,380 L180,400 M240,520 Q210,600 230,660"/>
<path class="k" d="M200,650 L250,680 L700,900 M200,800 L270,840 L680,1050 M250,680 L300,720 L265,790 L200,800 M200,650 L200,800"/>
<path class="t" d="M300,720 L420,780 M280,790 L420,860 M260,860 L420,940 M270,930 L700,1160 M290,960 L700,1190"/>
<path class="k" d="M430,770 L440,750 L620,850 L640,900 L700,930 M430,770 L430,920 L470,960 L660,1060 M450,830 L470,815 L580,870 L560,890 Z"/>
<path class="k" d="M440,765 L600,850" style="stroke-width:3.5"/>
<!-- rear ring -->
<path class="k" d="M1200,365 Q1080,370 950,460 Q830,590 760,740 Q720,880 705,1000 Q700,1120 750,1200 L850,1280"/>
<path class="t" d="M1180,385 Q1080,395 965,480 Q850,600 785,750 Q745,880 730,1000 M670,950 Q640,1020 690,1080"/>
<path class="k" d="M730,960 L800,1000 L820,1040 L820,1130 L790,1130 L720,1080"/>
<path class="t" d="M740,980 L800,1020 L800,1125"/>
<path class="k" d="M860,1065 Q880,1060 880,1085 L878,1135 L860,1135 Z"/>
<!-- brush holders / blocks -->
<path class="k" d="M900,575 L960,540 L1030,570 L1030,640 L970,660 L900,625 Z M960,540 L970,660"/>
<path class="t" d="M900,575 L975,605 L1030,570 M975,605 L970,660"/>
<path class="k" d="M1120,440 L1170,395 L1250,430 L1250,500 L1200,530 L1120,495 Z"/>
<path class="t" d="M1120,440 L1200,470 L1250,430 M1200,470 L1200,530"/>
<path class="k" d="M1120,1110 L1190,1140 L1250,1110 L1260,1150 L1200,1190 L1130,1160 Z"/>
<path class="t" d="M1130,1080 L1200,1110 L1250,1110 M1190,1140 L1200,1190"/>
<ellipse class="k" cx="1015" cy="480" rx="22" ry="35" transform="rotate(30 1015 480)" style="stroke-width:3"/>
<path class="k" d="M950,470 L990,520 L1040,540 L1070,510 L1100,520 L1100,420 L1060,400"/>
<path class="k" d="M840,580 L900,575 L900,625 L860,640 L820,710 L880,750 L885,775 L860,770"/>
<!-- rear coil  -->
<path class="k" d="M990,650 Q1050,700 1080,780 Q1060,850 1020,900 Q990,980 1000,1060 Q1020,1130 1070,1160 L1100,1190 L1110,1140"/>
<path class="k" d="M1130,590 Q1200,640 1210,660 Q1230,740 1200,830 Q1160,920 1100,970 L1020,930"/>
<path class="k" d="M1210,700 Q1220,780 1180,860 Q1140,930 1100,960" style="stroke-width:3"/>
<path class="t" d="M1210,660 Q1330,680 1370,720 Q1400,800 1380,880 Q1340,980 1280,1040 L1130,970 M1200,640 Q1340,660 1400,720 Q1440,800 1400,900 Q1360,1000 1280,1060"/>
<path class="t" d="M1250,500 L1210,660 M1360,560 L1330,660 M1250,500 Q1350,530 1420,600 M1130,590 L1250,640 M1280,1040 L1260,1110 M1340,990 L1370,1070 M1130,970 L1220,1010 L1210,1100"/>
<path class="k" d="M1010,930 L1140,990 L1160,1050 L1040,1080 L1010,1060 M1140,990 L1040,1080 M1080,1080 L1100,1180 L1120,1110"/>
<path class="t" d="M860,770 Q800,900 850,1100 Q880,1220 960,1290 M920,800 Q870,920 900,1100 Q930,1200 1000,1260 M1010,650 L930,830 M1060,720 L960,860 M800,730 L870,770"/>
<path class="k" d="M780,740 L730,870 M960,1240 L940,1290 L980,1320"/>
<path class="k" d="M1300,440 Q1380,480 1440,560"/>
</g>
<!-- p25_screw.svg -->
<g transform="translate(530,1580) scale(0.26185)">
<ellipse class="kw" cx="78" cy="335" rx="26" ry="38" transform="rotate(-20 78 335)"/>
<ellipse class="kw" cx="88" cy="335" rx="22" ry="34" transform="rotate(-20 88 335)"/>
<path class="kw" d="M95,322 L285,437 L300,432 L450,520 Q465,535 455,550 Q440,560 425,552 L280,465 L275,455 L88,345 Z"/>
<path class="t" d="M303,435 Q287,449 291,465 M316,443 Q300,457 304,473 M329,451 Q313,465 317,481 M342,458 Q326,472 330,488 M355,466 Q339,480 343,496 M368,474 Q352,488 356,504 M381,482 Q365,496 369,512 M394,490 Q378,504 382,520 M407,497 Q391,511 395,527 M420,505 Q404,519 408,535 M433,513 Q417,527 421,543 M446,521 Q430,535 434,551 "/>
</g>
<!-- p26a_housing.svg -->
<g transform="translate(930,1660) scale(0.23691)">
<path class="kw" d="M195,232 L385,325 Q410,328 425,315 L500,215 L475,215 L475,175 L500,170 L500,60 L605,100 L740,180 L1080,395 L1115,420 L1160,470 L1160,550 L1190,600 L1185,612 L1300,690 L1370,750 L1392,792 L1385,812 L1350,920 L1380,960 L1400,1020 L1390,1040 L1420,1200 L1436,1275 L903,1275 L900,1270 L840,1240 L800,1240 L700,1190 L680,1150 L200,870 L130,830 Q95,770 95,640 L100,500 Q75,430 90,400 L155,350 Z"/>
<path d="M1432,1262 L908,1262 L906,1290 L1440,1290 Z" fill="#fff" stroke="none"/>
<path class="k" d="M500,60 L580,100 L605,100 M520,130 L610,182 L680,165 L740,192 M335,300 L475,215 M335,300 L385,325"/>
<path class="t" d="M510,110 L520,170 L600,215 M500,170 L590,215 L680,170 M560,120 L640,165 M425,315 L470,300 L610,182 M600,215 L450,300 M740,192 L640,240 Q540,290 520,330 Q540,450 640,520 L790,570 L940,480 M740,200 Q640,260 650,300 Q700,400 930,470 M470,300 L530,330"/>
<path class="k" d="M950,470 L1080,410 L1115,440 L990,500 Z M990,500 L1150,590 L1185,612 M1080,395 L1095,425 M1160,470 L1030,520"/>
<path class="t" d="M960,460 L1070,405 M970,465 L1080,415 M1000,515 L1130,465 L1140,545 L1160,550 M1050,540 L1145,500 M790,570 L1130,465"/>
<path class="t" d="M155,350 L310,420 Q335,440 320,470 L250,560 Q210,560 200,520 Q210,470 250,450 L300,445 M200,520 Q240,480 300,460 L320,470 M100,500 L240,570 M140,370 L300,440"/>
<path class="t" d="M310,500 L420,550 L900,700 Q930,640 1000,620 M900,700 L880,790 M920,640 L1340,840 M970,660 L960,770 M860,730 Q960,760 970,870 Q940,950 830,960 M820,720 Q800,860 760,900 M1110,880 Q1120,950 1100,1010 L830,960 M1100,1010 Q1250,1010 1350,980"/>
<path class="k" d="M430,470 Q405,465 395,480 L300,600 Q292,630 320,660 L760,862 Q790,862 800,850 L860,740 Q860,725 850,720 Z"/>
<path class="k" d="M332,612 L415,500 Q425,488 445,495 L848,722"/>
<path class="t" d="M300,560 Q270,610 300,670 L760,885 M420,550 L400,700 M460,520 L420,690"/>
<path class="k" d="M354,641 L455,519 l46,25 l-21,29 M406,669 L507,547 l46,25 l-21,29 M457,696 L558,574 l46,25 l-21,29 M509,724 L610,602 l46,25 l-21,29 M561,752 L662,630 l46,25 l-21,29 M612,780 L714,658 l46,25 l-21,29 M664,807 L765,685 l46,25 l-21,29 M746,799 L817,713 "/>
<path class="t" d="M363,645 L464,525 M372,650 L472,531 M354,641 l42,22 l8,-6 M415,673 L516,553 M424,678 L524,559 M406,669 l42,22 l8,-6 M466,700 L567,580 M475,705 L575,586 M457,696 l42,22 l8,-6 M518,728 L619,608 M527,733 L627,614 M509,724 l42,22 l8,-6 M570,756 L671,636 M579,761 L679,642 M561,752 l42,22 l8,-6 M622,784 L722,664 M630,788 L730,670 M612,780 l42,22 l8,-6 M673,811 L774,691 M682,816 L782,697 M664,807 l42,22 l8,-6 "/>
<path class="k" d="M360,760 Q320,755 300,780 Q285,810 305,832 L760,1080 Q790,1060 805,1035 L832,975 Q830,962 818,958 Z"/>
<path class="t" d="M330,740 Q270,740 245,790 Q230,830 260,860 L680,1095 Q740,1120 770,1100 M300,870 L670,1075"/>
<g transform="matrix(0.874,0.478,0,1,332,845)"><text x="0" y="0" style="font-size:92px;font-weight:bold;text-anchor:start;fill:#fff;stroke:#000;stroke-width:7px;paint-order:normal;letter-spacing:-3px" textLength="450" lengthAdjust="spacingAndGlyphs">makita</text></g>
<path class="k" d="M138,550 Q126,568 143,580 L214,610 Q230,590 214,576 Z M125,620 Q113,638 130,650 L197,680 Q213,660 197,646 Z M122,687 Q110,705 127,717 L190,747 Q206,727 190,713 Z M124,747 Q112,765 129,777 L188,807 Q204,787 188,773 Z M131,797 Q119,815 136,827 L191,857 Q207,837 191,823 Z "/>
<path class="k" d="M130,830 L210,880 M120,800 L200,850 M125,815 L205,865"/>
<path class="k" d="M880,700 L940,740 L960,780 L1050,812 Q1200,855 1340,840 L1390,800"/>
<path class="k" d="M965,795 L1050,828 Q1200,870 1340,856 L1388,815"/>
<path class="t" d="M1185,612 L1300,705 M980,680 Q1100,740 1300,705 L1370,760"/>
<path class="k" d="M1005,640 Q995,615 1020,605 L1060,590 Q1080,588 1195,658 Q1200,680 1185,690 L1135,702 Q1110,700 1005,640 Z"/>
<path class="k" d="M1040,635 Q1035,622 1050,618 L1075,610 Q1090,612 1160,655 Q1162,668 1150,672 L1125,680 Q1105,675 1040,635 Z"/>
<path class="k" d="M760,1080 L780,1120 L700,1190 M830,975 L1180,1020 L1140,1150 L1100,1290"/>
<path class="k" d="M820,960 Q900,1000 1000,1010 L1180,1020" style="stroke-width:3"/>
<path class="k" d="M840,1040 Q825,1062 850,1075 L1120,1116 Q1142,1098 1125,1080 Z M815,1095 Q800,1117 825,1130 L1090,1178 Q1112,1160 1095,1142 Z M795,1150 Q780,1172 805,1185 L1075,1238 Q1097,1220 1080,1202 Z M790,1195 Q775,1217 800,1230 L1065,1288 Q1087,1270 1070,1252 Z "/>
<path class="t" d="M810,1130 L1090,1180 M800,1180 L1080,1235 M850,1060 L1120,1100 M1000,1040 Q1080,1060 1150,1040"/>
<path class="k" d="M790,1200 L1060,1270 M700,1190 L720,1210 L790,1240 L800,1215"/>
<path class="t" d="M1130,1270 Q1300,1330 1430,1280 M1180,1020 Q1280,1010 1350,985 M680,1110 L760,1160 L920,1280 L930,1320 M920,1260 L1050,1310 L1000,1290 L1010,1400 M1100,1290 L1180,1520 M1110,1250 L1130,1250 L1200,1520 M930,1320 Q1000,1400 1030,1540 M1000,1400 L1160,1470"/>
<path class="k" d="M1350,920 Q1390,1080 1425,1250"/>
<path class="t" d="M1380,960 Q1395,1000 1390,1040"/>
</g>
<!-- p26b_handle.svg -->
<g transform="translate(1060,1960) scale(0.16209)">
<path class="kw" d="M420,-20 L540,70 Q620,170 670,300 Q690,420 685,610 L700,640 L790,740 L820,800 L830,1000 L840,1290 Q810,1340 820,1440 Q840,1530 900,1600 L1000,1660 L1100,1720 L1180,1745 L1300,1740 L1420,1700 L1440,1600 L1430,1200 Q1410,650 1350,250 L1297,-20 Z"/>
<path d="M430,-40 L1290,-40 L1295,8 L440,8 Z" fill="#fff" stroke="none"/>
<path class="k" d="M800,0 Q880,120 950,350 L1060,760 L930,800 L1050,990 L1070,1000 L1075,1400 L1060,1580 L1080,1610 L1200,1650 L1420,1620"/>
<path class="k" d="M850,60 Q920,200 960,420 L1040,740 M930,820 L1040,1000 L1040,1580 L1000,1590 L850,1490"/>
<path class="t" d="M860,20 Q1080,100 1290,20 M940,280 Q1150,400 1340,300 M960,340 Q1150,450 1345,360 M1340,300 Q1400,700 1415,1200 L1420,1620 M1060,760 L1075,1000 M1090,1590 Q1250,1630 1415,1600 M1090,1625 Q1250,1670 1420,1640"/>
<path class="t" d="M550,20 L800,90 M560,60 L900,300 M650,180 L660,140 L850,120 M700,360 Q750,380 900,290 L910,760 M690,420 L720,440 M660,130 L650,20"/>
<ellipse class="k" cx="822" cy="580" rx="92" ry="130" transform="rotate(-18 822 580)" style="stroke-width:3"/>
<ellipse class="t" cx="835" cy="575" rx="80" ry="115" transform="rotate(-18 835 575)"/>
<ellipse class="t" cx="840" cy="560" rx="115" ry="165" transform="rotate(-18 840 560)"/>
<ellipse class="t" cx="845" cy="555" rx="130" ry="185" transform="rotate(-18 845 555)"/>
<path class="k" d="M820,490 Q810,540 840,570 L870,545 L850,500"/>
<path class="k" d="M685,610 L700,560 Q700,480 760,450 M700,640 Q760,720 860,730"/>
<path class="k" d="M840,1020 L1000,1000 L1020,1020 M850,1030 L850,1300 L920,1440 M870,1030 L870,1320 M900,1020 L915,1440 M930,1010 L940,1500 M990,1010 L1000,1540 M1015,1020 L1020,1560 M830,1440 L1000,1560 L1020,1560" style="stroke-width:2.6"/>
<path class="t" d="M960,1010 L965,1520 M840,1470 L950,1560 M820,800 L880,810 L850,840 M940,1500 L1000,1540"/>
<path class="t" d="M940,845 l-14,8 M949,857 l-14,8 M959,870 l-14,8 M968,882 l-14,8 M978,895 l-14,8 M987,907 l-14,8 M997,920 l-14,8 M1006,932 l-14,8 M1016,945 l-14,8 M1025,957 l-14,8 M1035,970 l-14,8 M1044,982 l-14,8 M920,330 l-14,6 M928,362 l-14,6 M936,394 l-14,6 M944,426 l-14,6 M952,458 l-14,6 M960,490 l-14,6 M968,522 l-14,6 M976,554 l-14,6 M984,586 l-14,6 M992,618 l-14,6 M1000,650 l-14,6 M1008,682 l-14,6 M1016,714 l-14,6 M1024,746 l-14,6 "/>
<path class="k" d="M1000,1660 Q1150,1720 1300,1700 L1420,1670"/>
</g>
<!-- p27_misc.svg -->
<g transform="translate(1230,1570) scale(0.16833)">
<path class="kw" d="M95,790 Q95,765 115,770 L635,1062 Q655,1075 655,1095 L655,1375 Q655,1395 630,1388 L112,1096 Q95,1085 95,1065 Z"/>
<!-- 28 -->
<path class="k" d="M460,185 Q600,220 715,295" style="stroke-width:4.5"/>
<path class="k" d="M1115,535 Q1200,620 1340,680" style="stroke-width:4.5"/>
<path class="kw" d="M700,300 L730,275 L800,290 L1070,440 L1130,500 L1135,520 L1100,550 L1020,530 L750,375 L700,322 Z"/>
<path class="t" d="M780,295 Q750,330 755,375 M1045,430 Q1005,470 1012,525 M1110,505 Q1090,525 1100,548"/>
<!-- 30 -->
<path class="kw" d="M1085,665 L960,735 L960,830 L950,835 L950,890 L960,895 L960,970 L1085,1045 L1220,975 L1220,900 L1232,895 L1232,855 L1220,850 L1220,740 Z"/>
<path class="t" d="M975,732 L1100,800 L1215,745 M1100,800 L1095,1040"/>
<path class="k" d="M995,785 L1055,815 L1055,885 L995,855 Z M1135,800 L1180,780 L1180,830 L1135,850 Z M1100,895 L1232,855 M1100,915 L1220,875 M1100,975 L1220,930"/>
<path class="t" d="M1010,800 L1040,815 L1040,865 L1010,850 Z M1025,805 L1025,860"/>
<path class="b" d="M1145,810 L1165,800 L1165,850 L1175,900 L1155,870 Z"/>
<!-- 29 -->
<path class="kw" d="M1015,1315 L1015,1460 L1100,1515 L1160,1480 L1160,1330 L1085,1290 Z"/>
<path class="k" d="M1015,1315 L1100,1362 L1160,1330 M1100,1362 L1100,1515"/>
<path class="kw" d="M1020,1165 L1060,1135 L1150,1180 L1155,1235 L1100,1268 L1025,1228 Z"/>
<path class="k" d="M1020,1165 L1100,1205 L1150,1180 M1100,1205 L1100,1268 M1050,1160 Q1080,1140 1120,1165 M1045,1175 Q1080,1160 1115,1185"/>
<path class="k" d="M1050,1260 Q1080,1290 1115,1265 M1045,1285 Q1080,1315 1118,1290 M1045,1310 Q1080,1340 1120,1315 M1050,1330 Q1085,1350 1118,1335" style="stroke-width:3"/>
<path class="k" d="M1065,1200 L1065,1260 M1095,1215 L1095,1270"/>
</g>
<!-- p31_switch.svg -->
<g transform="translate(1270,1780) scale(0.1808)">
<!-- 31 trigger -->
<path class="kw" d="M230,470 L240,500 L290,540 Q320,600 330,750 L325,860 L340,880 L490,950 L620,1040 L640,700 L500,600 Z"/>
<!-- body -->
<path class="kw" d="M620,640 L820,530 L1050,630 L1060,830 L1040,850 L1060,1085 L890,1180 L830,1195 L810,1180 L820,1150 L600,1040 L520,640 L600,600 Z"/>
<path class="k" d="M880,545 L905,490 L940,485 L965,500 L970,590 M920,495 L925,570 M940,490 L945,580"/>
<path class="t" d="M1050,630 L840,750 L760,720 M840,750 L890,1180 M760,720 L780,900 L820,930 L880,940 M780,900 L720,920"/>
<path class="k" d="M620,640 L640,760 L690,790 L680,620 M700,610 L720,830 L750,850 L735,625 M620,640 L740,580 M530,600 L540,660 L580,680 L580,630 L620,640 M520,680 L590,700 M470,700 L500,860 M480,660 L470,700"/>
<path class="k" d="M780,770 L810,780 L810,815 L780,805 Z M815,880 L835,890 L835,920 L815,910 Z" />
<path class="k" d="M560,560 L640,520 L740,560 L680,600 Z" style="stroke-width:3"/>
<path class="t" d="M580,565 L700,575 M600,545 L690,590 M640,530 L620,590"/>
<!-- lever -->
<path class="kw" d="M20,340 L65,305 L370,385 L420,355 L470,360 L600,425 L690,460 L690,500 L590,530 L500,585 L500,612 L470,580 L240,480 L230,460 L180,472 L130,480 Q80,450 40,380 Z"/>
<path class="t" d="M40,350 L250,420 L470,520 L590,450 L600,425 M470,520 L470,580 M250,420 L240,480 M380,395 L590,450 M420,400 L560,440 M440,370 L470,420 M590,450 L590,530"/>
<path class="k" d="M230,475 L480,590 M240,500 L470,600" style="stroke-width:2.6"/>
<ellipse class="t" cx="92" cy="345" rx="25" ry="12"/><ellipse class="t" cx="360" cy="425" rx="28" ry="14"/><ellipse class="t" cx="360" cy="425" rx="14" ry="7"/>
<!-- cylinder -->
<path class="kw" d="M560,830 L600,815 L650,840 Q690,900 688,945 Q680,990 590,1040 L540,1035 Q495,990 488,920 Q495,860 560,830 Z"/>
<path class="t" d="M570,860 Q620,930 615,1020"/>
<!-- screw -->
<ellipse class="k" cx="790" cy="1000" rx="52" ry="45" style="stroke-width:3"/>
<ellipse class="k" cx="765" cy="1010" rx="28" ry="30"/>
<ellipse class="t" cx="765" cy="1010" rx="12" ry="14"/>
<path class="k" d="M755,1070 L790,1080 L790,1105 L755,1095 Z M800,940 L875,945"/>
<!-- 32 -->
<path class="kw" d="M1200,0 L1180,60 L1175,340 L1200,400 L1210,430 L1250,430 L1260,400 L1290,340 L1285,60 L1260,0"/>
<path class="t" d="M1182,85 Q1230,110 1285,85 M1180,350 Q1230,380 1288,350"/>
<path class="k" d="M1225,440 Q1225,560 1260,690" style="stroke-width:4.5"/>
<!-- 33 -->
<path class="kw" d="M1195,1145 L1385,1040 L1490,1095 L1490,1415 L1305,1520 L1195,1460 Z"/>
<path class="k" d="M1195,1145 L1305,1200 L1490,1095 M1305,1200 L1305,1520"/>
<path class="t" d="M1215,1160 L1215,1470 M1215,1440 L1305,1490 M1210,1165 L1300,1210"/>
<path class="k" d="M1000,1320 Q1130,1300 1270,1240 M1000,1410 Q1130,1390 1270,1330 M1000,1500 Q1130,1480 1270,1420" style="stroke-width:3.5"/>
</g>
<!-- p34_cover.svg -->
<path class="kw" d="M1503.9,1571.4 L1533.9,1555.7 L1577.3,1580.4 L1599.7,1584.1 L1611.7,1593.9 L1622.1,1607.3 L1625.9,1617.8 L1625.1,1629.8 L1620.7,1638.8 L1613.9,1645.5 L1619.2,1659.7 L1626.6,1704.6 L1634.1,1749.5 L1640.1,1786.9 L1644.9,1817.9 L1650.5,1887.6 L1653.3,1957.2 L1651.2,2013.0 L1646.3,2026.9 L1635.9,2036.7 L1629.6,2032.5 L1622.6,2038.1 L1618.5,2039.5 L1615.0,2033.9 L1615.7,2022.7 L1621.3,2018.6 L1618.5,2014.4 L1608.7,2010.9 L1594.8,2010.9 L1583.6,2014.4 L1578.0,2015.8 L1572.5,2020.0 L1555.7,2010.2 L1551.6,2004.6 L1548.8,1989.3 L1548.8,1971.2 L1548.1,1967.0 L1555.7,1960.0 L1553.0,1915.4 L1551.6,1876.4 L1548.8,1865.3 L1541.8,1852.7 L1535.5,1845.7 L1535.5,1840.2 L1561.3,1827.6 L1564.8,1822.1 L1562.7,1798.4 L1563.0,1786.9 L1557.8,1761.5 L1547.3,1768.9 L1503.9,1748.0 L1503.9,1740.5 L1526.4,1727.0 L1530.9,1707.6 L1539.9,1695.6 L1551.8,1674.7 L1556.3,1658.2 L1551.8,1649.2 L1534.6,1638.8 L1535.4,1620.8 L1544.3,1614.8 L1545.8,1608.1 L1517.7,1591.6 L1517.4,1597.6 L1513.7,1596.9 L1512.9,1583.7 L1503.9,1577.4 Z"/>
<g transform="translate(1480,1540) scale(0.14963)">
<path class="t" d="M160,250 L330,340 L340,310 L540,225 M330,340 L650,520 M250,340 L640,560 M670,290 Q780,330 810,400 Q830,480 740,560 L650,520"/>
<path class="k" d="M455,345 Q440,325 470,320 L660,430 Q680,455 650,462 L620,455 Z M530,300 Q520,280 545,285 L730,390 Q745,410 720,418 L700,410 Z" style="stroke-width:2.6"/>
<path class="k" d="M440,455 L640,580 L700,640 L800,700 L830,722 L895,705 M650,600 Q700,580 770,660 L790,700 L740,760 L720,860"/>
<path class="t" d="M820,740 Q780,780 790,860 L800,1000 Q880,960 910,850 M830,722 L970,590 M850,700 L975,560"/>
<path class="k" d="M365,540 L440,500 L570,570 L560,640 L520,640 L530,760 M440,500 L440,540 L560,610 M400,560 L395,660 L520,730 M440,590 L520,640 L520,730 M545,650 L545,760"/>
<path class="t" d="M440,620 L520,665 M420,640 L520,700 M570,640 L620,620 L660,660"/>
<ellipse class="k" cx="625" cy="740" rx="50" ry="72" transform="rotate(-15 625 740)" style="stroke-width:3"/>
<path class="k" d="M600,690 Q570,740 600,800"/>
<path class="k" d="M510,790 L700,900 M540,980 Q560,880 600,860 M440,1060 L680,925 L775,1180 Z M530,1050 L660,980 L740,1130 Z" style="stroke-width:2.6"/>
<path class="k" d="M530,1050 L660,975 M680,925 L760,960 L790,1000" style="stroke-width:3.5"/>
<path class="t" d="M600,1030 L740,1100 M640,1000 L760,1080 M440,1060 L760,1220 M460,1090 L770,1250 M570,860 L680,900 M520,1000 L540,980"/>
<path class="k" d="M310,1250 Q340,1150 400,1100 L440,1110 L760,1280 M375,1150 L440,1110 M375,1150 L375,1260 L400,1250 L400,1160 L530,1230 L530,1340 L560,1350 L560,1260 L640,1210 L720,1250 M440,1220 L520,1260 L520,1330 M330,1260 L330,1340"/>
<path class="t" d="M330,1340 L520,1440 M380,1290 L520,1360 M440,1260 L340,1320 M470,1350 L370,1410 L360,1460 M520,1440 L700,1340 M680,1300 L790,1250 M700,1340 L700,1400"/>
<ellipse class="k" cx="625" cy="1335" rx="50" ry="72" transform="rotate(-15 625 1335)" style="stroke-width:3"/>
<path class="k" d="M640,1280 Q680,1330 660,1390 M690,1310 L780,1265 L790,1330 L700,1380"/>
<path class="k" d="M650,600 Q720,800 770,1000 Q840,1300 900,1600 L945,1790" style="stroke-width:3.5"/>
<path class="k" d="M700,900 Q780,1100 830,1400 L890,1790 M895,705 Q940,800 960,1000 Q1000,1300 1030,1500 L1080,1790"/>
<path class="k" d="M760,960 Q820,1200 870,1500 L920,1790" stroke-dasharray="14 10" style="stroke-width:3"/>
<path class="t" d="M790,860 Q850,1100 900,1400 L960,1790 M910,850 Q960,1100 1000,1400 M1000,1300 Q990,1400 920,1480 M740,1400 L840,1440 L880,1560 M700,1420 L720,1440 L730,1790 M740,1620 L860,1680 L870,1790"/>
<path class="k" d="M520,1480 L700,1400 M450,1530 L520,1480 M530,1500 Q570,1600 580,1790 M640,1480 L660,1790"/>
<path class="t" d="M560,1500 Q600,1620 605,1790 M610,1470 L640,1560"/>
</g>
<g transform="translate(1500,1790) scale(0.13937)">
<path class="k" d="M800,0 Q870,300 920,700 Q945,1100 935,1600 L950,1700" style="stroke-width:3.5"/>
<path class="k" d="M830,0 Q900,300 950,700 Q975,1100 965,1600" stroke-dasharray="30 14" style="stroke-width:2.6"/>
<path class="k" d="M1020,0 Q1060,500 1085,1000 L1085,1560 M780,0 L790,420 M550,0 L580,470 M480,20 L540,60 L560,300"/>
<path class="t" d="M870,0 Q940,300 985,700 Q1010,1100 1000,1640 M900,0 Q960,300 1005,700 Q1035,1100 1020,1620 M640,0 L650,170 M920,110 Q1000,80 1020,20 M930,180 Q1010,130 1040,60"/>
<path class="k" d="M485,40 l60,25 M488,72 l60,25 M491,104 l60,25 M494,136 l60,25 M497,168 l60,25 M500,200 l60,25 M503,232 l60,25 "/>
<path class="k" d="M580,215 L650,170 L740,205 L740,245 L670,275 L585,240 Z M600,390 L660,345 L760,380 L750,410 L690,440 L600,420 Z"/>
<path class="t" d="M670,275 L660,345 M585,240 L590,400 M670,300 L780,350 M690,440 L880,420 M650,460 L900,440"/>
<path class="k" d="M255,360 L380,410 L530,320 L560,390 L600,470 L460,540 L380,490 L380,410 M300,450 L440,520 M255,400 Q330,440 380,600" />
<path class="b" d="M270,410 Q340,440 395,590 L375,600 Q330,470 262,425 Z"/>
<path class="t" d="M400,480 L560,395 M440,270 L520,320 M380,410 L260,365 M460,540 L470,600"/>
<path class="k" d="M370,620 L420,640 L450,1000 L470,1200 Q450,1300 400,1310 L350,1290 M440,580 L500,1000 L530,1200 L500,1320 M600,470 L740,470 L780,700 L790,1350"/>
<path class="t" d="M480,560 L530,1000 M510,540 L550,950 M480,620 Q650,600 745,500 M740,470 Q790,800 800,1200 M500,520 L720,460"/>
<ellipse class="k" cx="545" cy="1110" rx="62" ry="92" transform="rotate(-15 545 1110)" style="stroke-width:3.5"/>
<ellipse class="t" cx="560" cy="1105" rx="45" ry="70" transform="rotate(-15 560 1105)"/>
<path class="t" d="M500,1020 Q560,900 680,910 Q790,960 810,1080 Q790,1160 700,1180 L600,1190 M540,1010 Q600,940 690,960 Q760,1010 750,1130 M590,1020 Q660,1060 650,1160 M620,1000 Q700,1050 690,1170"/>
<path class="t" d="M640,1200 Q620,1280 700,1310 L780,1330 M700,1200 Q700,1280 770,1310 M740,1190 L800,1230 L800,1370"/>
<path class="k" d="M500,1320 L680,1335 M420,1330 L400,1380 L540,1460 L540,1420 L680,1350 L750,1345 M560,1420 L565,1500 L700,1430 L920,1540 M580,1530 Q700,1470 860,1570"/>
<path class="k" d="M410,1465 L440,1560 L490,1580 L530,1540 L530,1490 M440,1520 L520,1500"/>
<path class="k" d="M385,1395 l12,30 M399,1404 l12,30 M413,1413 l12,30 M427,1422 l12,30 M441,1431 l12,30 M455,1440 l12,30 M469,1449 l12,30 M483,1458 l12,30 M497,1467 l12,30 M511,1476 l12,30 "/>
<path class="t" d="M420,1330 L470,1290 L520,1290 M460,1370 L520,1340 L640,1345 M600,1500 L595,1600 M670,1360 L670,1440 M755,1345 L760,1440 M750,1370 L920,1450"/>
<ellipse class="k" cx="885" cy="1720" rx="32" ry="38" style="stroke-width:3"/>
<ellipse class="k" cx="890" cy="1725" rx="14" ry="18"/>
<path class="k" d="M870,1640 L920,1580 M935,1600 L985,1650 L1080,1590 M985,1650 L975,1770 M940,1680 L970,1690"/>
<path class="t" d="M880,1200 L920,1050 M880,1200 L925,1220 M1000,1640 L1075,1570"/>
</g>
<!-- p35_small.svg -->
<g transform="translate(1280,2060) scale(0.19164)">
<path class="kw" d="M385,190 Q395,150 470,130 L680,245 Q715,280 715,300 L715,360 L640,405 L600,400 L400,270 Q380,240 385,190 Z"/>
<path class="t" d="M385,200 Q400,260 430,270 L620,385 Q690,370 715,310 M440,150 L660,270 Q680,300 660,340 M400,180 Q420,165 450,185 L650,300"/>
<ellipse class="k" cx="425" cy="228" rx="28" ry="25"/><ellipse class="k" cx="620" cy="338" rx="28" ry="25"/>
<path class="k" d="M470,222 L580,282 L575,352 L470,292 Z M450,200 Q470,240 460,290 M590,300 Q575,330 585,365"/>
<path class="t" d="M485,240 L570,288 M485,255 L570,303 M485,270 L570,318 M485,285 L570,333"/>
<path class="kw" d="M165,600 L195,1390 Q170,1420 178,1460 Q200,1505 280,1510 Q360,1505 385,1460 Q390,1420 368,1390 L400,600 Z"/>
<path class="t" d="M185,1420 Q200,1470 280,1475 Q360,1470 380,1420 M195,1395 Q210,1445 280,1450 Q350,1445 368,1395"/>
<path class="kw" d="M127,490 Q130,410 282,403 Q432,410 437,490 L437,575 Q400,630 282,635 Q160,630 127,575 Z"/>
<path class="t" d="M127,490 Q140,575 282,580 Q420,575 437,490"/>
<ellipse class="k" cx="280" cy="492" rx="56" ry="32"/>
<path class="k" d="M210,1565 Q250,1600 262,1690 M345,1555 Q305,1600 298,1690"/>
<path class="kw" d="M233,1690 Q240,1672 280,1670 Q320,1672 325,1690 L322,2105 L310,2118 L290,2105 L270,2122 L240,2118 L230,2100 Z"/>
<path class="t" d="M233,1695 Q245,1720 280,1720 Q315,1720 325,1695"/>
</g>
<g transform="translate(1280,2060) scale(0.19164)">
<ellipse class="kw" cx="972" cy="140" rx="44" ry="58" transform="rotate(20 972 140)"/>
<path class="kw" d="M925,128 L800,208 Q768,232 778,250 Q792,266 828,252 L952,182 Z"/>
<ellipse class="kw" cx="945" cy="152" rx="24" ry="38" transform="rotate(20 945 152)"/>
<path class="t" d="M905,142 Q923,162 915,188 M884,155 Q902,175 894,199 M863,168 Q881,188 873,210 M842,181 Q860,201 852,221 M821,194 Q839,214 831,232 M800,207 Q818,227 810,243 "/>
</g>
<g transform="translate(1480,1540) scale(0.14963)">
<ellipse class="kw" cx="1388" cy="300" rx="52" ry="70" transform="rotate(20 1388 300)"/>
<path class="kw" d="M1335,285 L1160,392 Q1122,418 1132,445 Q1150,466 1192,448 L1368,352 Z"/>
<ellipse class="kw" cx="1356" cy="315" rx="28" ry="46" transform="rotate(20 1356 315)"/>
<path class="t" d="M1308,302 Q1330,326 1320,358 M1283,317 Q1305,341 1295,371 M1258,333 Q1280,357 1270,385 M1233,348 Q1255,372 1245,398 M1208,364 Q1230,388 1220,412 M1183,379 Q1205,403 1195,425 M1158,395 Q1180,419 1170,439 "/>
</g>
<!-- z_leaders.svg -->
<path class="l" d="M231.2,149.6 L231.2,224.5 M357.3,168.4 L456.4,224.5 M243.2,445.2 L310.5,484.5 M565.7,346.0 L565.7,407.8 M243.0,606.7 L299.5,639.0 M462.4,548.7 L462.4,593.9 M733.5,443.0 L733.5,557.1 M844.3,507.7 L844.3,620.7 M936.7,561.6 L936.7,649.9 M1047.0,624.5 L1047.0,715.4 M1136.8,676.1 L1136.8,758.4 M1215.4,721.0 L1215.4,836.6 M1278.3,758.8 L1278.3,891.1 M1349.5,798.3 L1349.5,927.9 M1554.5,734.9 L1609.9,703.5 M1569.5,836.6 L1609.9,814.2 M1569.5,1007.2 L1608.4,986.3 M123.2,1149.2 L123.2,1243.2 M247.1,1221.3 L247.1,1282.4 M347.7,1278.0 L347.7,1352.3 M496.5,1362.0 L496.5,1453.3 M552.6,1395.0 L552.6,1492.6 M635.6,1444.9 L635.6,1501.9 M813.7,1545.0 L813.7,1587.2 M551.0,1679.5 L551.0,1716.0 M1095.8,1683.0 L1095.8,1694.0 M1294.5,1688.7 L1294.5,1724.0 M1381.5,1588.2 L1381.5,1624.7 M1436.2,1702.1 L1454.7,1691.2 M1423.6,1793.0 L1454.7,1775.4 M1378.8,1818.9 L1378.8,1855.9 M1503.2,1822.5 L1517.7,1814.4 M1511.4,1940.0 L1511.4,1971.6 M1577.3,1539.8 L1577.3,1578.3 M1684.7,1535.2 L1684.7,1574.9 M1474.5,2094.5 L1521.5,2121.3 M1417.0,2130.9 L1471.6,2162.5 M1354.7,2257.4 L1430.4,2300.5 M1342.3,2391.5 L1430.4,2441.4 M254.4,304.9 L310.5,336.7 M396.6,389.1 L471.4,430.2 M555.8,478.8 L650.0,533.4 M790.3,615.2 L810.5,626.6 M845.6,646.4 L886.9,670.2 M935.4,698.2 L999.2,735.6 M1038.7,758.2 L1080.9,782.5 M1135.4,814.4 L1184.7,842.6 M1211.9,859.1 L1267.3,889.9 M1289.7,903.1 L1328.6,924.9 M1366.0,946.8 L1449.8,995.2 M1521.6,784.3 L1521.6,869.5 M1521.6,926.4 L1521.6,1016.2 M1634.9,1615.6 L1645.3,1609.6 M277.5,749.3 L55.5,621.4 L55.5,1232.9 L80.9,1247.3 M420.2,831.8 L1627.6,1528.0 L1627.6,1147.3 L1571.0,1115.1 M709.4,1652.0 L689.7,1641.5 L689.7,1747.6 L654.4,1726.6"/>
<path class="k" d="M1495,1735 L1492.6,1780" style="stroke-width:4.5"/>
<text x="231.2" y="147.0">1</text>
<text x="231.2" y="448.2">2</text>
<text x="230.5" y="608.0">3</text>
<text x="468.6" y="243.1">4</text>
<text x="462.4" y="616.2">5</text>
<text x="565.7" y="339.7">6</text>
<text x="733.5" y="436.7">7</text>
<text x="843.9" y="500.3">8</text>
<text x="936.3" y="553.8">9</text>
<text x="1047.0" y="617.4">10</text>
<text x="1135.7" y="667.5">11</text>
<text x="1214.3" y="712.8">12</text>
<text x="1278.3" y="751.0">13</text>
<text x="1349.5" y="790.8">14</text>
<text x="1626.0" y="703.1">15</text>
<text x="1626.4" y="811.7">16</text>
<text x="1626.4" y="983.8">17</text>
<text x="122.9" y="1143.0">18</text>
<text x="247.1" y="1214.2">19</text>
<text x="346.5" y="1272.2">20</text>
<text x="494.0" y="1357.4">21</text>
<text x="550.7" y="1390.1">22</text>
<text x="634.9" y="1438.5">23</text>
<text x="811.3" y="1540.6">24</text>
<text x="551.0" y="1739.2">25</text>
<text x="1093.7" y="1676.9">26</text>
<text x="1294.0" y="1682.1">27</text>
<text x="1381.5" y="1584.5">28</text>
<text x="1473.2" y="1772.2">29</text>
<text x="1473.2" y="1689.7">30</text>
<text x="1376.7" y="1813.0">31</text>
<text x="1535.8" y="1812.1">32</text>
<text x="1509.6" y="1933.2">33</text>
<text x="1575.5" y="1532.5">34</text>
<text x="1682.6" y="1528.4">35</text>
<text x="1538.7" y="2141.4">36</text>
<text x="1488.9" y="2182.6">37</text>
<text x="1447.7" y="2320.6">38</text>
<text x="1447.7" y="2459.6">39</text>
</svg>
</body></html>
